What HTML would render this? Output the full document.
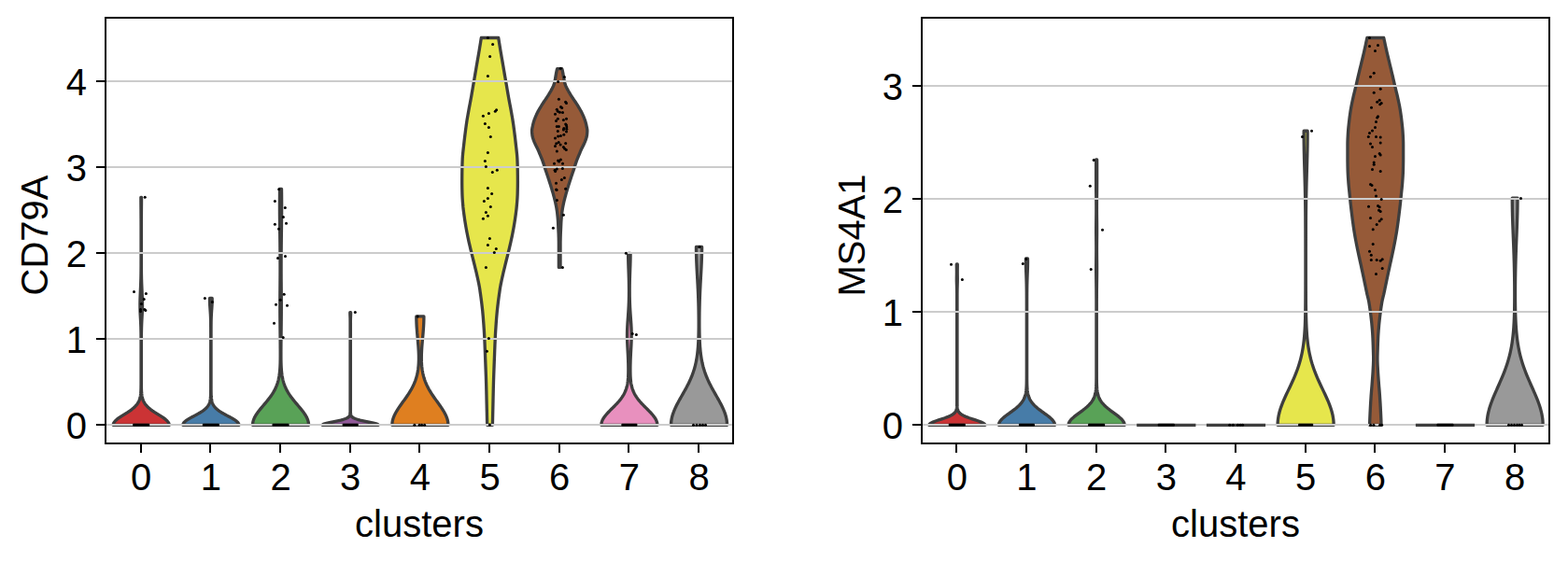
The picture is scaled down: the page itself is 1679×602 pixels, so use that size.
<!DOCTYPE html>
<html lang="en"><head><meta charset="utf-8"><title>Violin plots: CD79A and MS4A1 by clusters</title>
<style>html,body{margin:0;padding:0;background:#fff;}body{width:1679px;height:602px;overflow:hidden;font-family:"Liberation Sans",sans-serif;}svg{display:block;position:absolute;left:0;top:0}.t{font-family:"Liberation Sans",sans-serif;font-size:40px;fill:#000}</style></head><body>
<svg width="1679" height="602" viewBox="0 0 1679 602">
<rect width="1679" height="602" fill="#fff"/>
<g id="panel0">
<g stroke="#3e3e3e" stroke-width="3.33" stroke-linejoin="round">
<path fill="#cb3335" d="M121.18 455.3 L121.45 453.78 L122.25 452.25 L123.53 450.73 L125.23 449.2 L127.26 447.68 L129.53 446.15 L131.93 444.63 L134.37 443.1 L136.76 441.58 L139.03 440.05 L141.12 438.53 L143 437 L144.64 435.48 L146.04 433.95 L147.2 432.43 L148.15 430.9 L148.9 429.38 L149.49 427.85 L149.93 426.33 L150.27 424.8 L150.51 423.28 L150.69 421.75 L150.81 420.23 L150.89 418.7 L150.95 417.18 L150.99 415.65 L151.01 414.13 L151.03 412.6 L151.04 411.08 L151.04 409.55 L151.05 408.03 L151.05 406.5 L151.05 404.98 L151.05 403.45 L151.05 401.93 L151.05 400.4 L151.05 398.88 L151.05 397.35 L151.05 395.83 L151.05 394.3 L151.05 392.78 L151.05 391.25 L151.05 389.73 L151.05 388.2 L151.05 386.68 L151.05 385.15 L151.05 383.63 L151.05 382.1 L151.05 380.58 L151.05 379.06 L151.05 377.53 L151.05 376.01 L151.05 374.48 L151.05 372.96 L151.05 371.43 L151.05 369.91 L151.05 368.38 L151.04 366.86 L151.04 365.33 L151.04 363.81 L151.03 362.28 L151.02 360.76 L151.01 359.23 L150.99 357.71 L150.97 356.18 L150.94 354.66 L150.91 353.13 L150.87 351.61 L150.83 350.08 L150.77 348.56 L150.71 347.03 L150.64 345.51 L150.57 343.98 L150.49 342.46 L150.41 340.93 L150.33 339.41 L150.25 337.88 L150.17 336.36 L150.11 334.83 L150.05 333.31 L150 331.78 L149.96 330.26 L149.93 328.73 L149.92 327.21 L149.92 325.68 L149.94 324.16 L149.96 322.63 L149.99 321.11 L150.04 319.58 L150.09 318.06 L150.15 316.53 L150.21 315.01 L150.27 313.48 L150.34 311.96 L150.41 310.43 L150.48 308.91 L150.55 307.38 L150.61 305.86 L150.67 304.33 L150.73 302.81 L150.78 301.29 L150.82 299.76 L150.87 298.24 L150.9 296.71 L150.93 295.19 L150.96 293.66 L150.98 292.14 L151 290.61 L151.01 289.09 L151.02 287.56 L151.03 286.04 L151.04 284.51 L151.04 282.99 L151.04 281.46 L151.05 279.94 L151.05 278.41 L151.05 276.89 L151.05 275.36 L151.05 273.84 L151.05 272.31 L151.05 270.79 L151.05 269.26 L151.05 267.74 L151.05 266.21 L151.05 264.69 L151.05 263.16 L151.05 261.64 L151.05 260.11 L151.05 258.59 L151.05 257.06 L151.05 255.54 L151.05 254.01 L151.05 252.49 L151.05 250.96 L151.05 249.44 L151.05 247.91 L151.05 246.39 L151.05 244.86 L151.05 243.34 L151.05 241.81 L151.04 240.29 L151.04 238.76 L151.04 237.24 L151.03 235.71 L151.03 234.19 L151.02 232.66 L151.01 231.14 L151 229.61 L150.99 228.09 L150.98 226.56 L150.97 225.04 L150.95 223.52 L150.94 221.99 L150.92 220.47 L150.91 218.94 L150.9 217.42 L150.89 215.89 L150.88 214.37 L150.88 212.84 L150.87 211.32 L151.53 211.32 L151.52 212.84 L151.52 214.37 L151.51 215.89 L151.5 217.42 L151.49 218.94 L151.48 220.47 L151.46 221.99 L151.45 223.52 L151.43 225.04 L151.42 226.56 L151.41 228.09 L151.4 229.61 L151.39 231.14 L151.38 232.66 L151.37 234.19 L151.37 235.71 L151.36 237.24 L151.36 238.76 L151.36 240.29 L151.35 241.81 L151.35 243.34 L151.35 244.86 L151.35 246.39 L151.35 247.91 L151.35 249.44 L151.35 250.96 L151.35 252.49 L151.35 254.01 L151.35 255.54 L151.35 257.06 L151.35 258.59 L151.35 260.11 L151.35 261.64 L151.35 263.16 L151.35 264.69 L151.35 266.21 L151.35 267.74 L151.35 269.26 L151.35 270.79 L151.35 272.31 L151.35 273.84 L151.35 275.36 L151.35 276.89 L151.35 278.41 L151.35 279.94 L151.36 281.46 L151.36 282.99 L151.36 284.51 L151.37 286.04 L151.38 287.56 L151.39 289.09 L151.4 290.61 L151.42 292.14 L151.44 293.66 L151.47 295.19 L151.5 296.71 L151.53 298.24 L151.58 299.76 L151.62 301.29 L151.67 302.81 L151.73 304.33 L151.79 305.86 L151.85 307.38 L151.92 308.91 L151.99 310.43 L152.06 311.96 L152.13 313.48 L152.19 315.01 L152.25 316.53 L152.31 318.06 L152.36 319.58 L152.41 321.11 L152.44 322.63 L152.46 324.16 L152.48 325.68 L152.48 327.21 L152.47 328.73 L152.44 330.26 L152.4 331.78 L152.35 333.31 L152.29 334.83 L152.23 336.36 L152.15 337.88 L152.07 339.41 L151.99 340.93 L151.91 342.46 L151.83 343.98 L151.76 345.51 L151.69 347.03 L151.63 348.56 L151.57 350.08 L151.53 351.61 L151.49 353.13 L151.46 354.66 L151.43 356.18 L151.41 357.71 L151.39 359.23 L151.38 360.76 L151.37 362.28 L151.36 363.81 L151.36 365.33 L151.36 366.86 L151.35 368.38 L151.35 369.91 L151.35 371.43 L151.35 372.96 L151.35 374.48 L151.35 376.01 L151.35 377.53 L151.35 379.06 L151.35 380.58 L151.35 382.1 L151.35 383.63 L151.35 385.15 L151.35 386.68 L151.35 388.2 L151.35 389.73 L151.35 391.25 L151.35 392.78 L151.35 394.3 L151.35 395.83 L151.35 397.35 L151.35 398.88 L151.35 400.4 L151.35 401.93 L151.35 403.45 L151.35 404.98 L151.35 406.5 L151.35 408.03 L151.36 409.55 L151.36 411.08 L151.37 412.6 L151.39 414.13 L151.41 415.65 L151.45 417.18 L151.51 418.7 L151.59 420.23 L151.71 421.75 L151.89 423.28 L152.13 424.8 L152.47 426.33 L152.91 427.85 L153.5 429.38 L154.25 430.9 L155.2 432.43 L156.36 433.95 L157.76 435.48 L159.4 437 L161.28 438.53 L163.37 440.05 L165.64 441.58 L168.03 443.1 L170.47 444.63 L172.87 446.15 L175.14 447.68 L177.17 449.2 L178.87 450.73 L180.15 452.25 L180.95 453.78 L181.22 455.3Z"/>
<path fill="#477ca8" d="M195.85 455.3 L195.96 454.45 L196.31 453.6 L196.88 452.75 L197.66 451.9 L198.63 451.05 L199.77 450.2 L201.06 449.36 L202.46 448.51 L203.96 447.66 L205.52 446.81 L207.11 445.96 L208.71 445.11 L210.3 444.26 L211.84 443.41 L213.33 442.56 L214.75 441.71 L216.08 440.86 L217.31 440.01 L218.44 439.16 L219.47 438.31 L220.4 437.47 L221.22 436.62 L221.95 435.77 L222.58 434.92 L223.13 434.07 L223.6 433.22 L223.99 432.37 L224.33 431.52 L224.6 430.67 L224.83 429.82 L225.02 428.97 L225.17 428.12 L225.3 427.27 L225.39 426.42 L225.47 425.58 L225.53 424.73 L225.58 423.88 L225.61 423.03 L225.64 422.18 L225.66 421.33 L225.68 420.48 L225.69 419.63 L225.7 418.78 L225.7 417.93 L225.71 417.08 L225.71 416.23 L225.71 415.38 L225.71 414.53 L225.71 413.69 L225.71 412.84 L225.72 411.99 L225.72 411.14 L225.72 410.29 L225.72 409.44 L225.72 408.59 L225.72 407.74 L225.72 406.89 L225.72 406.04 L225.72 405.19 L225.72 404.34 L225.72 403.49 L225.72 402.64 L225.72 401.8 L225.72 400.95 L225.72 400.1 L225.72 399.25 L225.72 398.4 L225.72 397.55 L225.72 396.7 L225.72 395.85 L225.72 395 L225.72 394.15 L225.72 393.3 L225.72 392.45 L225.72 391.6 L225.72 390.76 L225.72 389.91 L225.72 389.06 L225.72 388.21 L225.72 387.36 L225.72 386.51 L225.72 385.66 L225.72 384.81 L225.72 383.96 L225.72 383.11 L225.72 382.26 L225.72 381.41 L225.72 380.56 L225.72 379.71 L225.72 378.87 L225.72 378.02 L225.72 377.17 L225.72 376.32 L225.72 375.47 L225.72 374.62 L225.72 373.77 L225.72 372.92 L225.72 372.07 L225.72 371.22 L225.72 370.37 L225.72 369.52 L225.72 368.67 L225.72 367.82 L225.72 366.98 L225.72 366.13 L225.72 365.28 L225.72 364.43 L225.72 363.58 L225.72 362.73 L225.72 361.88 L225.72 361.03 L225.72 360.18 L225.72 359.33 L225.72 358.48 L225.72 357.63 L225.71 356.78 L225.71 355.93 L225.71 355.09 L225.71 354.24 L225.71 353.39 L225.71 352.54 L225.71 351.69 L225.7 350.84 L225.7 349.99 L225.69 349.14 L225.69 348.29 L225.68 347.44 L225.67 346.59 L225.66 345.74 L225.65 344.89 L225.63 344.04 L225.62 343.2 L225.6 342.35 L225.57 341.5 L225.54 340.65 L225.51 339.8 L225.48 338.95 L225.44 338.1 L225.4 337.25 L225.35 336.4 L225.3 335.55 L225.24 334.7 L225.19 333.85 L225.13 333 L225.07 332.16 L225.01 331.31 L224.95 330.46 L224.89 329.61 L224.83 328.76 L224.77 327.91 L224.72 327.06 L224.68 326.21 L224.63 325.36 L224.6 324.51 L224.58 323.66 L224.56 322.81 L224.55 321.96 L224.55 321.11 L224.56 320.27 L224.57 319.42 L227.16 319.42 L227.18 320.27 L227.19 321.11 L227.18 321.96 L227.18 322.81 L227.16 323.66 L227.13 324.51 L227.1 325.36 L227.06 326.21 L227.01 327.06 L226.96 327.91 L226.91 328.76 L226.85 329.61 L226.79 330.46 L226.73 331.31 L226.66 332.16 L226.6 333 L226.54 333.85 L226.49 334.7 L226.43 335.55 L226.38 336.4 L226.34 337.25 L226.3 338.1 L226.26 338.95 L226.22 339.8 L226.19 340.65 L226.16 341.5 L226.14 342.35 L226.12 343.2 L226.1 344.04 L226.08 344.89 L226.07 345.74 L226.06 346.59 L226.05 347.44 L226.04 348.29 L226.04 349.14 L226.03 349.99 L226.03 350.84 L226.03 351.69 L226.02 352.54 L226.02 353.39 L226.02 354.24 L226.02 355.09 L226.02 355.93 L226.02 356.78 L226.02 357.63 L226.02 358.48 L226.02 359.33 L226.02 360.18 L226.02 361.03 L226.02 361.88 L226.02 362.73 L226.02 363.58 L226.02 364.43 L226.02 365.28 L226.02 366.13 L226.02 366.98 L226.02 367.82 L226.02 368.67 L226.02 369.52 L226.02 370.37 L226.02 371.22 L226.02 372.07 L226.02 372.92 L226.02 373.77 L226.02 374.62 L226.02 375.47 L226.02 376.32 L226.02 377.17 L226.02 378.02 L226.02 378.87 L226.02 379.71 L226.02 380.56 L226.02 381.41 L226.02 382.26 L226.02 383.11 L226.02 383.96 L226.02 384.81 L226.02 385.66 L226.02 386.51 L226.02 387.36 L226.02 388.21 L226.02 389.06 L226.02 389.91 L226.02 390.76 L226.02 391.6 L226.02 392.45 L226.02 393.3 L226.02 394.15 L226.02 395 L226.02 395.85 L226.02 396.7 L226.02 397.55 L226.02 398.4 L226.02 399.25 L226.02 400.1 L226.02 400.95 L226.02 401.8 L226.02 402.64 L226.02 403.49 L226.02 404.34 L226.02 405.19 L226.02 406.04 L226.02 406.89 L226.02 407.74 L226.02 408.59 L226.02 409.44 L226.02 410.29 L226.02 411.14 L226.02 411.99 L226.02 412.84 L226.02 413.69 L226.02 414.53 L226.02 415.38 L226.02 416.23 L226.03 417.08 L226.03 417.93 L226.04 418.78 L226.05 419.63 L226.06 420.48 L226.07 421.33 L226.09 422.18 L226.12 423.03 L226.16 423.88 L226.2 424.73 L226.26 425.58 L226.34 426.42 L226.44 427.27 L226.56 428.12 L226.71 428.97 L226.9 429.82 L227.13 430.67 L227.41 431.52 L227.74 432.37 L228.14 433.22 L228.61 434.07 L229.15 434.92 L229.79 435.77 L230.51 436.62 L231.34 437.47 L232.26 438.31 L233.29 439.16 L234.42 440.01 L235.66 440.86 L236.99 441.71 L238.4 442.56 L239.89 443.41 L241.43 444.26 L243.02 445.11 L244.62 445.96 L246.21 446.81 L247.77 447.66 L249.27 448.51 L250.67 449.36 L251.96 450.2 L253.1 451.05 L254.07 451.9 L254.85 452.75 L255.42 453.6 L255.77 454.45 L255.89 455.3Z"/>
<path fill="#59a257" d="M270.51 455.3 L270.6 453.72 L270.84 452.14 L271.24 450.56 L271.8 448.98 L272.5 447.39 L273.33 445.81 L274.29 444.23 L275.34 442.65 L276.49 441.07 L277.71 439.49 L278.98 437.91 L280.3 436.32 L281.63 434.74 L282.98 433.16 L284.31 431.58 L285.63 430 L286.91 428.42 L288.15 426.84 L289.34 425.26 L290.46 423.68 L291.52 422.09 L292.51 420.51 L293.43 418.93 L294.27 417.35 L295.04 415.77 L295.74 414.19 L296.37 412.61 L296.93 411.03 L297.43 409.44 L297.87 407.86 L298.25 406.28 L298.59 404.7 L298.88 403.12 L299.12 401.54 L299.33 399.96 L299.51 398.38 L299.66 396.79 L299.78 395.21 L299.88 393.63 L299.96 392.05 L300.03 390.47 L300.08 388.89 L300.12 387.31 L300.14 385.73 L300.17 384.14 L300.18 382.56 L300.19 380.98 L300.19 379.4 L300.19 377.82 L300.19 376.24 L300.18 374.66 L300.17 373.07 L300.16 371.49 L300.15 369.91 L300.13 368.33 L300.12 366.75 L300.1 365.17 L300.08 363.59 L300.07 362.01 L300.05 360.43 L300.03 358.84 L300.01 357.26 L300 355.68 L299.98 354.1 L299.96 352.52 L299.94 350.94 L299.92 349.36 L299.91 347.78 L299.89 346.19 L299.87 344.61 L299.86 343.03 L299.85 341.45 L299.83 339.87 L299.82 338.29 L299.81 336.71 L299.8 335.12 L299.79 333.54 L299.79 331.96 L299.78 330.38 L299.78 328.8 L299.78 327.22 L299.78 325.64 L299.78 324.06 L299.79 322.48 L299.79 320.89 L299.8 319.31 L299.81 317.73 L299.82 316.15 L299.83 314.57 L299.84 312.99 L299.86 311.41 L299.87 309.83 L299.88 308.24 L299.9 306.66 L299.91 305.08 L299.92 303.5 L299.93 301.92 L299.94 300.34 L299.95 298.76 L299.96 297.18 L299.97 295.59 L299.98 294.01 L299.98 292.43 L299.99 290.85 L299.99 289.27 L299.99 287.69 L299.99 286.11 L299.99 284.52 L299.99 282.94 L299.98 281.36 L299.98 279.78 L299.97 278.2 L299.96 276.62 L299.95 275.04 L299.94 273.46 L299.93 271.88 L299.92 270.29 L299.91 268.71 L299.89 267.13 L299.88 265.55 L299.86 263.97 L299.85 262.39 L299.83 260.81 L299.81 259.23 L299.79 257.64 L299.77 256.06 L299.75 254.48 L299.73 252.9 L299.71 251.32 L299.69 249.74 L299.67 248.16 L299.65 246.58 L299.63 244.99 L299.61 243.41 L299.6 241.83 L299.58 240.25 L299.56 238.67 L299.54 237.09 L299.53 235.51 L299.51 233.93 L299.5 232.34 L299.48 230.76 L299.47 229.18 L299.46 227.6 L299.46 226.02 L299.45 224.44 L299.45 222.86 L299.44 221.28 L299.44 219.69 L299.44 218.11 L299.45 216.53 L299.45 214.95 L299.46 213.37 L299.47 211.79 L299.49 210.21 L299.5 208.63 L299.52 207.04 L299.54 205.46 L299.56 203.88 L299.59 202.3 L301.48 202.3 L301.5 203.88 L301.53 205.46 L301.55 207.04 L301.56 208.63 L301.58 210.21 L301.59 211.79 L301.6 213.37 L301.61 214.95 L301.62 216.53 L301.62 218.11 L301.62 219.69 L301.62 221.28 L301.62 222.86 L301.62 224.44 L301.61 226.02 L301.6 227.6 L301.59 229.18 L301.58 230.76 L301.57 232.34 L301.56 233.93 L301.54 235.51 L301.52 237.09 L301.51 238.67 L301.49 240.25 L301.47 241.83 L301.45 243.41 L301.43 244.99 L301.41 246.58 L301.39 248.16 L301.37 249.74 L301.35 251.32 L301.33 252.9 L301.31 254.48 L301.29 256.06 L301.27 257.64 L301.26 259.23 L301.24 260.81 L301.22 262.39 L301.2 263.97 L301.19 265.55 L301.17 267.13 L301.16 268.71 L301.15 270.29 L301.14 271.88 L301.12 273.46 L301.11 275.04 L301.11 276.62 L301.1 278.2 L301.09 279.78 L301.09 281.36 L301.08 282.94 L301.08 284.52 L301.08 286.11 L301.08 287.69 L301.08 289.27 L301.08 290.85 L301.08 292.43 L301.09 294.01 L301.09 295.59 L301.1 297.18 L301.11 298.76 L301.12 300.34 L301.13 301.92 L301.15 303.5 L301.16 305.08 L301.17 306.66 L301.18 308.24 L301.2 309.83 L301.21 311.41 L301.22 312.99 L301.24 314.57 L301.25 316.15 L301.26 317.73 L301.27 319.31 L301.28 320.89 L301.28 322.48 L301.29 324.06 L301.29 325.64 L301.29 327.22 L301.29 328.8 L301.29 330.38 L301.28 331.96 L301.27 333.54 L301.27 335.12 L301.26 336.71 L301.25 338.29 L301.23 339.87 L301.22 341.45 L301.21 343.03 L301.19 344.61 L301.18 346.19 L301.16 347.78 L301.14 349.36 L301.12 350.94 L301.11 352.52 L301.09 354.1 L301.07 355.68 L301.05 357.26 L301.03 358.84 L301.02 360.43 L301 362.01 L300.98 363.59 L300.97 365.17 L300.95 366.75 L300.93 368.33 L300.92 369.91 L300.91 371.49 L300.9 373.07 L300.89 374.66 L300.88 376.24 L300.88 377.82 L300.88 379.4 L300.88 380.98 L300.89 382.56 L300.9 384.14 L300.92 385.73 L300.95 387.31 L300.99 388.89 L301.04 390.47 L301.11 392.05 L301.19 393.63 L301.29 395.21 L301.41 396.79 L301.56 398.38 L301.74 399.96 L301.94 401.54 L302.19 403.12 L302.48 404.7 L302.81 406.28 L303.2 407.86 L303.64 409.44 L304.14 411.03 L304.7 412.61 L305.33 414.19 L306.03 415.77 L306.8 417.35 L307.64 418.93 L308.56 420.51 L309.55 422.09 L310.61 423.68 L311.73 425.26 L312.92 426.84 L314.15 428.42 L315.44 430 L316.75 431.58 L318.09 433.16 L319.43 434.74 L320.77 436.32 L322.08 437.91 L323.36 439.49 L324.58 441.07 L325.72 442.65 L326.78 444.23 L327.73 445.81 L328.56 447.39 L329.27 448.98 L329.82 450.56 L330.23 452.14 L330.47 453.72 L330.55 455.3Z"/>
<path fill="#905998" d="M345.18 455.3 L345.83 454.55 L347.68 453.79 L350.52 453.04 L354.01 452.29 L357.77 451.53 L361.47 450.78 L364.83 450.03 L367.69 449.27 L369.98 448.52 L371.7 447.77 L372.94 447.01 L373.77 446.26 L374.31 445.51 L374.64 444.75 L374.83 444 L374.94 443.25 L375 442.49 L375.03 441.74 L375.04 440.99 L375.05 440.24 L375.05 439.48 L375.05 438.73 L375.05 437.98 L375.05 437.22 L375.05 436.47 L375.05 435.72 L375.05 434.96 L375.05 434.21 L375.05 433.46 L375.05 432.7 L375.05 431.95 L375.05 431.2 L375.05 430.44 L375.05 429.69 L375.05 428.94 L375.05 428.18 L375.05 427.43 L375.05 426.68 L375.05 425.92 L375.05 425.17 L375.05 424.42 L375.05 423.66 L375.05 422.91 L375.05 422.16 L375.05 421.4 L375.05 420.65 L375.05 419.9 L375.05 419.14 L375.05 418.39 L375.05 417.64 L375.05 416.88 L375.05 416.13 L375.05 415.38 L375.05 414.62 L375.05 413.87 L375.05 413.12 L375.05 412.36 L375.05 411.61 L375.05 410.86 L375.05 410.11 L375.05 409.35 L375.05 408.6 L375.05 407.85 L375.05 407.09 L375.05 406.34 L375.05 405.59 L375.05 404.83 L375.05 404.08 L375.05 403.33 L375.05 402.57 L375.05 401.82 L375.05 401.07 L375.05 400.31 L375.05 399.56 L375.05 398.81 L375.05 398.05 L375.05 397.3 L375.05 396.55 L375.05 395.79 L375.05 395.04 L375.05 394.29 L375.05 393.53 L375.05 392.78 L375.05 392.03 L375.05 391.27 L375.05 390.52 L375.05 389.77 L375.05 389.01 L375.05 388.26 L375.05 387.51 L375.05 386.75 L375.05 386 L375.05 385.25 L375.05 384.49 L375.05 383.74 L375.05 382.99 L375.05 382.23 L375.05 381.48 L375.05 380.73 L375.05 379.98 L375.05 379.22 L375.05 378.47 L375.05 377.72 L375.05 376.96 L375.05 376.21 L375.05 375.46 L375.05 374.7 L375.05 373.95 L375.05 373.2 L375.05 372.44 L375.05 371.69 L375.05 370.94 L375.05 370.18 L375.05 369.43 L375.05 368.68 L375.05 367.92 L375.05 367.17 L375.05 366.42 L375.05 365.66 L375.05 364.91 L375.05 364.16 L375.05 363.4 L375.05 362.65 L375.05 361.9 L375.05 361.14 L375.05 360.39 L375.05 359.64 L375.05 358.88 L375.05 358.13 L375.05 357.38 L375.05 356.62 L375.05 355.87 L375.05 355.12 L375.05 354.36 L375.05 353.61 L375.05 352.86 L375.05 352.1 L375.05 351.35 L375.05 350.6 L375.05 349.85 L375.05 349.09 L375.05 348.34 L375.05 347.59 L375.05 346.83 L375.05 346.08 L375.05 345.33 L375.04 344.57 L375.04 343.82 L375.03 343.07 L375.02 342.31 L375.01 341.56 L374.99 340.81 L374.96 340.05 L374.94 339.3 L374.91 338.55 L374.87 337.79 L374.85 337.04 L374.82 336.29 L374.81 335.53 L374.8 334.78 L375.6 334.78 L375.59 335.53 L375.58 336.29 L375.55 337.04 L375.53 337.79 L375.49 338.55 L375.46 339.3 L375.44 340.05 L375.41 340.81 L375.39 341.56 L375.38 342.31 L375.37 343.07 L375.36 343.82 L375.36 344.57 L375.35 345.33 L375.35 346.08 L375.35 346.83 L375.35 347.59 L375.35 348.34 L375.35 349.09 L375.35 349.85 L375.35 350.6 L375.35 351.35 L375.35 352.1 L375.35 352.86 L375.35 353.61 L375.35 354.36 L375.35 355.12 L375.35 355.87 L375.35 356.62 L375.35 357.38 L375.35 358.13 L375.35 358.88 L375.35 359.64 L375.35 360.39 L375.35 361.14 L375.35 361.9 L375.35 362.65 L375.35 363.4 L375.35 364.16 L375.35 364.91 L375.35 365.66 L375.35 366.42 L375.35 367.17 L375.35 367.92 L375.35 368.68 L375.35 369.43 L375.35 370.18 L375.35 370.94 L375.35 371.69 L375.35 372.44 L375.35 373.2 L375.35 373.95 L375.35 374.7 L375.35 375.46 L375.35 376.21 L375.35 376.96 L375.35 377.72 L375.35 378.47 L375.35 379.22 L375.35 379.98 L375.35 380.73 L375.35 381.48 L375.35 382.23 L375.35 382.99 L375.35 383.74 L375.35 384.49 L375.35 385.25 L375.35 386 L375.35 386.75 L375.35 387.51 L375.35 388.26 L375.35 389.01 L375.35 389.77 L375.35 390.52 L375.35 391.27 L375.35 392.03 L375.35 392.78 L375.35 393.53 L375.35 394.29 L375.35 395.04 L375.35 395.79 L375.35 396.55 L375.35 397.3 L375.35 398.05 L375.35 398.81 L375.35 399.56 L375.35 400.31 L375.35 401.07 L375.35 401.82 L375.35 402.57 L375.35 403.33 L375.35 404.08 L375.35 404.83 L375.35 405.59 L375.35 406.34 L375.35 407.09 L375.35 407.85 L375.35 408.6 L375.35 409.35 L375.35 410.11 L375.35 410.86 L375.35 411.61 L375.35 412.36 L375.35 413.12 L375.35 413.87 L375.35 414.62 L375.35 415.38 L375.35 416.13 L375.35 416.88 L375.35 417.64 L375.35 418.39 L375.35 419.14 L375.35 419.9 L375.35 420.65 L375.35 421.4 L375.35 422.16 L375.35 422.91 L375.35 423.66 L375.35 424.42 L375.35 425.17 L375.35 425.92 L375.35 426.68 L375.35 427.43 L375.35 428.18 L375.35 428.94 L375.35 429.69 L375.35 430.44 L375.35 431.2 L375.35 431.95 L375.35 432.7 L375.35 433.46 L375.35 434.21 L375.35 434.96 L375.35 435.72 L375.35 436.47 L375.35 437.22 L375.35 437.98 L375.35 438.73 L375.35 439.48 L375.35 440.24 L375.36 440.99 L375.37 441.74 L375.4 442.49 L375.46 443.25 L375.57 444 L375.76 444.75 L376.09 445.51 L376.63 446.26 L377.46 447.01 L378.7 447.77 L380.42 448.52 L382.71 449.27 L385.57 450.03 L388.93 450.78 L392.63 451.53 L396.39 452.29 L399.88 453.04 L402.72 453.79 L404.57 454.55 L405.22 455.3Z"/>
<path fill="#df7f20" d="M419.85 455.3 L419.86 454.57 L419.9 453.85 L419.96 453.12 L420.05 452.39 L420.16 451.66 L420.3 450.94 L420.46 450.21 L420.64 449.48 L420.85 448.75 L421.08 448.03 L421.34 447.3 L421.61 446.57 L421.91 445.84 L422.22 445.12 L422.56 444.39 L422.91 443.66 L423.29 442.93 L423.67 442.21 L424.08 441.48 L424.5 440.75 L424.93 440.03 L425.38 439.3 L425.84 438.57 L426.31 437.84 L426.79 437.12 L427.28 436.39 L427.77 435.66 L428.28 434.93 L428.79 434.21 L429.31 433.48 L429.83 432.75 L430.35 432.02 L430.87 431.3 L431.4 430.57 L431.93 429.84 L432.45 429.11 L432.98 428.39 L433.5 427.66 L434.02 426.93 L434.53 426.21 L435.04 425.48 L435.55 424.75 L436.05 424.02 L436.54 423.3 L437.03 422.57 L437.5 421.84 L437.97 421.11 L438.43 420.39 L438.88 419.66 L439.33 418.93 L439.76 418.2 L440.18 417.48 L440.59 416.75 L440.99 416.02 L441.38 415.29 L441.76 414.57 L442.12 413.84 L442.48 413.11 L442.82 412.38 L443.15 411.66 L443.47 410.93 L443.78 410.2 L444.08 409.48 L444.36 408.75 L444.64 408.02 L444.9 407.29 L445.15 406.57 L445.39 405.84 L445.62 405.11 L445.84 404.38 L446.04 403.66 L446.24 402.93 L446.43 402.2 L446.61 401.47 L446.77 400.75 L446.93 400.02 L447.08 399.29 L447.22 398.56 L447.35 397.84 L447.47 397.11 L447.58 396.38 L447.69 395.66 L447.78 394.93 L447.87 394.2 L447.95 393.47 L448.03 392.75 L448.1 392.02 L448.16 391.29 L448.21 390.56 L448.26 389.84 L448.3 389.11 L448.34 388.38 L448.37 387.65 L448.39 386.93 L448.41 386.2 L448.43 385.47 L448.44 384.74 L448.44 384.02 L448.44 383.29 L448.44 382.56 L448.43 381.84 L448.42 381.11 L448.4 380.38 L448.38 379.65 L448.36 378.93 L448.33 378.2 L448.3 377.47 L448.27 376.74 L448.23 376.02 L448.19 375.29 L448.15 374.56 L448.11 373.83 L448.06 373.11 L448.01 372.38 L447.96 371.65 L447.91 370.92 L447.85 370.2 L447.8 369.47 L447.74 368.74 L447.68 368.02 L447.62 367.29 L447.56 366.56 L447.49 365.83 L447.43 365.11 L447.37 364.38 L447.3 363.65 L447.24 362.92 L447.17 362.2 L447.11 361.47 L447.04 360.74 L446.98 360.01 L446.91 359.29 L446.85 358.56 L446.79 357.83 L446.73 357.1 L446.66 356.38 L446.61 355.65 L446.55 354.92 L446.49 354.19 L446.43 353.47 L446.38 352.74 L446.33 352.01 L446.28 351.29 L446.23 350.56 L446.19 349.83 L446.14 349.1 L446.1 348.38 L446.06 347.65 L446.03 346.92 L446 346.19 L445.97 345.47 L445.94 344.74 L445.92 344.01 L445.89 343.28 L445.88 342.56 L445.86 341.83 L445.85 341.1 L445.84 340.37 L445.84 339.65 L445.84 338.92 L453.9 338.92 L453.89 339.65 L453.89 340.37 L453.88 341.1 L453.87 341.83 L453.86 342.56 L453.84 343.28 L453.82 344.01 L453.79 344.74 L453.77 345.47 L453.74 346.19 L453.7 346.92 L453.67 347.65 L453.63 348.38 L453.59 349.1 L453.55 349.83 L453.5 350.56 L453.45 351.29 L453.4 352.01 L453.35 352.74 L453.3 353.47 L453.24 354.19 L453.19 354.92 L453.13 355.65 L453.07 356.38 L453.01 357.1 L452.95 357.83 L452.88 358.56 L452.82 359.29 L452.75 360.01 L452.69 360.74 L452.63 361.47 L452.56 362.2 L452.5 362.92 L452.43 363.65 L452.37 364.38 L452.3 365.11 L452.24 365.83 L452.18 366.56 L452.12 367.29 L452.05 368.02 L452 368.74 L451.94 369.47 L451.88 370.2 L451.83 370.92 L451.77 371.65 L451.72 372.38 L451.67 373.11 L451.63 373.83 L451.58 374.56 L451.54 375.29 L451.5 376.02 L451.47 376.74 L451.43 377.47 L451.4 378.2 L451.38 378.93 L451.35 379.65 L451.33 380.38 L451.32 381.11 L451.3 381.84 L451.3 382.56 L451.29 383.29 L451.29 384.02 L451.3 384.74 L451.31 385.47 L451.32 386.2 L451.34 386.93 L451.36 387.65 L451.4 388.38 L451.43 389.11 L451.47 389.84 L451.52 390.56 L451.58 391.29 L451.64 392.02 L451.7 392.75 L451.78 393.47 L451.86 394.2 L451.95 394.93 L452.05 395.66 L452.15 396.38 L452.26 397.11 L452.39 397.84 L452.52 398.56 L452.66 399.29 L452.8 400.02 L452.96 400.75 L453.13 401.47 L453.31 402.2 L453.49 402.93 L453.69 403.66 L453.9 404.38 L454.11 405.11 L454.34 405.84 L454.58 406.57 L454.84 407.29 L455.1 408.02 L455.37 408.75 L455.66 409.48 L455.95 410.2 L456.26 410.93 L456.58 411.66 L456.91 412.38 L457.26 413.11 L457.61 413.84 L457.98 414.57 L458.36 415.29 L458.74 416.02 L459.14 416.75 L459.55 417.48 L459.98 418.2 L460.41 418.93 L460.85 419.66 L461.3 420.39 L461.76 421.11 L462.23 421.84 L462.71 422.57 L463.19 423.3 L463.69 424.02 L464.18 424.75 L464.69 425.48 L465.2 426.21 L465.72 426.93 L466.23 427.66 L466.76 428.39 L467.28 429.11 L467.81 429.84 L468.33 430.57 L468.86 431.3 L469.38 432.02 L469.91 432.75 L470.43 433.48 L470.94 434.21 L471.45 434.93 L471.96 435.66 L472.46 436.39 L472.95 437.12 L473.43 437.84 L473.9 438.57 L474.35 439.3 L474.8 440.03 L475.24 440.75 L475.66 441.48 L476.06 442.21 L476.45 442.93 L476.82 443.66 L477.17 444.39 L477.51 445.12 L477.83 445.84 L478.12 446.57 L478.4 447.3 L478.65 448.03 L478.88 448.75 L479.09 449.48 L479.27 450.21 L479.44 450.94 L479.57 451.66 L479.69 452.39 L479.77 453.12 L479.84 453.85 L479.87 454.57 L479.89 455.3Z"/>
<path fill="#e6e64c" d="M521.7 455.3 L521.62 452.71 L521.56 450.11 L521.49 447.52 L521.43 444.93 L521.38 442.34 L521.32 439.74 L521.26 437.15 L521.2 434.56 L521.14 431.97 L521.08 429.37 L521.02 426.78 L520.97 424.19 L520.91 421.6 L520.85 419 L520.78 416.41 L520.72 413.82 L520.65 411.22 L520.57 408.63 L520.49 406.04 L520.41 403.45 L520.31 400.85 L520.22 398.26 L520.12 395.67 L520.02 393.08 L519.92 390.48 L519.82 387.89 L519.72 385.3 L519.62 382.71 L519.53 380.11 L519.43 377.52 L519.34 374.93 L519.24 372.33 L519.14 369.74 L519.03 367.15 L518.92 364.56 L518.8 361.96 L518.68 359.37 L518.53 356.78 L518.37 354.19 L518.2 351.59 L518.02 349 L517.83 346.41 L517.64 343.81 L517.44 341.22 L517.23 338.63 L517.01 336.04 L516.76 333.44 L516.49 330.85 L516.2 328.26 L515.89 325.67 L515.57 323.07 L515.25 320.48 L514.9 317.89 L514.53 315.3 L514.16 312.7 L513.79 310.11 L513.38 307.52 L512.9 304.92 L512.38 302.33 L511.83 299.74 L511.25 297.15 L510.67 294.55 L510.07 291.96 L509.46 289.37 L508.83 286.78 L508.19 284.18 L507.55 281.59 L506.91 279 L506.26 276.41 L505.61 273.81 L504.97 271.22 L504.34 268.63 L503.72 266.03 L503.1 263.44 L502.5 260.85 L501.91 258.26 L501.35 255.66 L500.81 253.07 L500.28 250.48 L499.77 247.89 L499.29 245.29 L498.84 242.7 L498.4 240.11 L497.98 237.52 L497.58 234.92 L497.21 232.33 L496.85 229.74 L496.5 227.14 L496.18 224.55 L495.89 221.96 L495.66 219.37 L495.45 216.77 L495.25 214.18 L495.08 211.59 L494.96 209 L494.88 206.4 L494.82 203.81 L494.76 201.22 L494.73 198.63 L494.71 196.03 L494.71 193.44 L494.72 190.85 L494.74 188.25 L494.76 185.66 L494.8 183.07 L494.84 180.48 L494.9 177.88 L494.98 175.29 L495.08 172.7 L495.2 170.11 L495.36 167.51 L495.58 164.92 L495.84 162.33 L496.13 159.74 L496.43 157.14 L496.72 154.55 L497 151.96 L497.3 149.36 L497.61 146.77 L497.93 144.18 L498.26 141.59 L498.59 138.99 L498.94 136.4 L499.3 133.81 L499.67 131.22 L500.07 128.62 L500.5 126.03 L500.95 123.44 L501.41 120.84 L501.88 118.25 L502.35 115.66 L502.84 113.07 L503.34 110.47 L503.83 107.88 L504.31 105.29 L504.78 102.7 L505.22 100.1 L505.67 97.51 L506.1 94.92 L506.55 92.33 L507 89.73 L507.45 87.14 L507.9 84.55 L508.35 81.95 L508.8 79.36 L509.24 76.77 L509.68 74.18 L510.12 71.58 L510.56 68.99 L511.01 66.4 L511.46 63.81 L511.91 61.21 L512.37 58.62 L512.81 56.03 L513.25 53.44 L513.68 50.84 L514.1 48.25 L514.52 45.66 L514.94 43.06 L515.35 40.47 L533.71 40.47 L534.13 43.06 L534.55 45.66 L534.97 48.25 L535.39 50.84 L535.82 53.44 L536.25 56.03 L536.7 58.62 L537.15 61.21 L537.61 63.81 L538.06 66.4 L538.5 68.99 L538.95 71.58 L539.39 74.18 L539.83 76.77 L540.27 79.36 L540.72 81.95 L541.17 84.55 L541.62 87.14 L542.07 89.73 L542.52 92.33 L542.96 94.92 L543.4 97.51 L543.84 100.1 L544.29 102.7 L544.75 105.29 L545.23 107.88 L545.73 110.47 L546.23 113.07 L546.72 115.66 L547.19 118.25 L547.66 120.84 L548.12 123.44 L548.57 126.03 L548.99 128.62 L549.39 131.22 L549.77 133.81 L550.13 136.4 L550.48 138.99 L550.81 141.59 L551.14 144.18 L551.46 146.77 L551.76 149.36 L552.06 151.96 L552.35 154.55 L552.63 157.14 L552.93 159.74 L553.22 162.33 L553.49 164.92 L553.71 167.51 L553.87 170.11 L553.99 172.7 L554.09 175.29 L554.17 177.88 L554.23 180.48 L554.27 183.07 L554.3 185.66 L554.33 188.25 L554.35 190.85 L554.36 193.44 L554.36 196.03 L554.34 198.63 L554.3 201.22 L554.25 203.81 L554.19 206.4 L554.11 209 L553.98 211.59 L553.82 214.18 L553.62 216.77 L553.41 219.37 L553.17 221.96 L552.89 224.55 L552.56 227.14 L552.22 229.74 L551.86 232.33 L551.49 234.92 L551.09 237.52 L550.67 240.11 L550.23 242.7 L549.78 245.29 L549.29 247.89 L548.79 250.48 L548.26 253.07 L547.71 255.66 L547.15 258.26 L546.57 260.85 L545.97 263.44 L545.35 266.03 L544.72 268.63 L544.09 271.22 L543.45 273.81 L542.8 276.41 L542.15 279 L541.51 281.59 L540.88 284.18 L540.24 286.78 L539.61 289.37 L538.99 291.96 L538.4 294.55 L537.82 297.15 L537.24 299.74 L536.69 302.33 L536.17 304.92 L535.69 307.52 L535.28 310.11 L534.91 312.7 L534.53 315.3 L534.17 317.89 L533.82 320.48 L533.49 323.07 L533.18 325.67 L532.87 328.26 L532.58 330.85 L532.3 333.44 L532.06 336.04 L531.83 338.63 L531.62 341.22 L531.42 343.81 L531.23 346.41 L531.05 349 L530.87 351.59 L530.69 354.19 L530.53 356.78 L530.39 359.37 L530.26 361.96 L530.15 364.56 L530.04 367.15 L529.93 369.74 L529.83 372.33 L529.73 374.93 L529.63 377.52 L529.54 380.11 L529.44 382.71 L529.34 385.3 L529.24 387.89 L529.14 390.48 L529.04 393.08 L528.94 395.67 L528.85 398.26 L528.75 400.85 L528.66 403.45 L528.58 406.04 L528.49 408.63 L528.42 411.22 L528.35 413.82 L528.28 416.41 L528.22 419 L528.16 421.6 L528.1 424.19 L528.04 426.78 L527.99 429.37 L527.93 431.97 L527.87 434.56 L527.81 437.15 L527.75 439.74 L527.69 442.34 L527.63 444.93 L527.57 447.52 L527.51 450.11 L527.44 452.71 L527.36 455.3Z"/>
<path fill="#965a38" d="M598.37 286.39 L598.37 285.06 L598.37 283.73 L598.37 282.4 L598.37 281.07 L598.37 279.74 L598.37 278.41 L598.37 277.08 L598.37 275.75 L598.37 274.42 L598.37 273.09 L598.37 271.76 L598.37 270.43 L598.37 269.1 L598.37 267.77 L598.37 266.44 L598.37 265.11 L598.37 263.78 L598.37 262.45 L598.37 261.12 L598.36 259.79 L598.35 258.46 L598.32 257.13 L598.29 255.8 L598.26 254.47 L598.22 253.14 L598.18 251.81 L598.13 250.48 L598.08 249.15 L598.01 247.82 L597.95 246.49 L597.89 245.16 L597.83 243.83 L597.77 242.5 L597.71 241.17 L597.65 239.84 L597.59 238.51 L597.51 237.18 L597.43 235.85 L597.32 234.52 L597.21 233.19 L597.08 231.86 L596.94 230.53 L596.8 229.2 L596.66 227.87 L596.49 226.54 L596.3 225.21 L596.09 223.88 L595.86 222.55 L595.61 221.22 L595.35 219.89 L595.07 218.56 L594.79 217.23 L594.48 215.9 L594.17 214.57 L593.83 213.24 L593.48 211.91 L593.13 210.58 L592.77 209.25 L592.4 207.92 L592.03 206.59 L591.65 205.26 L591.26 203.93 L590.86 202.6 L590.46 201.27 L590.05 199.94 L589.63 198.61 L589.21 197.28 L588.78 195.95 L588.35 194.62 L587.93 193.29 L587.5 191.96 L587.08 190.63 L586.64 189.3 L586.19 187.97 L585.73 186.64 L585.28 185.31 L584.82 183.98 L584.36 182.65 L583.91 181.32 L583.47 179.99 L583.05 178.66 L582.65 177.33 L582.24 176 L581.81 174.67 L581.35 173.34 L580.87 172.01 L580.37 170.68 L579.85 169.35 L579.3 168.02 L578.73 166.69 L578.16 165.36 L577.61 164.03 L577.07 162.7 L576.51 161.37 L575.93 160.04 L575.3 158.71 L574.61 157.38 L573.92 156.05 L573.29 154.72 L572.68 153.39 L572.1 152.06 L571.56 150.73 L571.1 149.4 L570.65 148.07 L570.26 146.74 L569.97 145.41 L569.82 144.08 L569.7 142.75 L569.61 141.42 L569.57 140.09 L569.64 138.76 L569.85 137.43 L570.12 136.1 L570.41 134.77 L570.69 133.44 L571.01 132.11 L571.38 130.78 L571.78 129.45 L572.24 128.12 L572.75 126.79 L573.3 125.46 L573.85 124.13 L574.43 122.8 L575.05 121.47 L575.7 120.14 L576.4 118.81 L577.16 117.48 L577.95 116.15 L578.76 114.82 L579.56 113.49 L580.37 112.16 L581.21 110.83 L582.07 109.5 L582.97 108.17 L583.91 106.84 L584.83 105.51 L585.71 104.18 L586.56 102.85 L587.39 101.52 L588.2 100.19 L588.99 98.86 L589.78 97.53 L590.54 96.2 L591.23 94.87 L591.88 93.54 L592.5 92.21 L593.05 90.88 L593.47 89.55 L593.8 88.22 L594.09 86.89 L594.34 85.56 L594.59 84.23 L594.82 82.9 L595.04 81.57 L595.26 80.24 L595.5 78.91 L595.74 77.58 L596 76.25 L596.29 74.92 L596.67 73.59 L601.73 73.59 L602.11 74.92 L602.4 76.25 L602.66 77.58 L602.9 78.91 L603.14 80.24 L603.36 81.57 L603.58 82.9 L603.81 84.23 L604.06 85.56 L604.31 86.89 L604.6 88.22 L604.93 89.55 L605.35 90.88 L605.9 92.21 L606.52 93.54 L607.17 94.87 L607.86 96.2 L608.62 97.53 L609.41 98.86 L610.2 100.19 L611.01 101.52 L611.84 102.85 L612.69 104.18 L613.57 105.51 L614.49 106.84 L615.43 108.17 L616.33 109.5 L617.19 110.83 L618.03 112.16 L618.84 113.49 L619.64 114.82 L620.45 116.15 L621.24 117.48 L622 118.81 L622.7 120.14 L623.35 121.47 L623.97 122.8 L624.55 124.13 L625.1 125.46 L625.65 126.79 L626.16 128.12 L626.62 129.45 L627.02 130.78 L627.39 132.11 L627.71 133.44 L627.99 134.77 L628.28 136.1 L628.55 137.43 L628.76 138.76 L628.83 140.09 L628.79 141.42 L628.7 142.75 L628.58 144.08 L628.43 145.41 L628.14 146.74 L627.75 148.07 L627.3 149.4 L626.84 150.73 L626.3 152.06 L625.72 153.39 L625.11 154.72 L624.48 156.05 L623.79 157.38 L623.1 158.71 L622.47 160.04 L621.89 161.37 L621.33 162.7 L620.79 164.03 L620.24 165.36 L619.67 166.69 L619.1 168.02 L618.55 169.35 L618.03 170.68 L617.53 172.01 L617.05 173.34 L616.59 174.67 L616.16 176 L615.75 177.33 L615.35 178.66 L614.93 179.99 L614.49 181.32 L614.04 182.65 L613.58 183.98 L613.12 185.31 L612.67 186.64 L612.21 187.97 L611.76 189.3 L611.32 190.63 L610.9 191.96 L610.47 193.29 L610.05 194.62 L609.62 195.95 L609.19 197.28 L608.77 198.61 L608.35 199.94 L607.94 201.27 L607.54 202.6 L607.14 203.93 L606.75 205.26 L606.37 206.59 L606 207.92 L605.63 209.25 L605.27 210.58 L604.92 211.91 L604.57 213.24 L604.23 214.57 L603.92 215.9 L603.61 217.23 L603.33 218.56 L603.05 219.89 L602.79 221.22 L602.54 222.55 L602.31 223.88 L602.1 225.21 L601.91 226.54 L601.74 227.87 L601.6 229.2 L601.46 230.53 L601.32 231.86 L601.19 233.19 L601.08 234.52 L600.97 235.85 L600.89 237.18 L600.81 238.51 L600.75 239.84 L600.69 241.17 L600.63 242.5 L600.57 243.83 L600.51 245.16 L600.45 246.49 L600.39 247.82 L600.32 249.15 L600.27 250.48 L600.22 251.81 L600.18 253.14 L600.14 254.47 L600.11 255.8 L600.08 257.13 L600.05 258.46 L600.04 259.79 L600.03 261.12 L600.03 262.45 L600.03 263.78 L600.03 265.11 L600.03 266.44 L600.03 267.77 L600.03 269.1 L600.03 270.43 L600.03 271.76 L600.03 273.09 L600.03 274.42 L600.03 275.75 L600.03 277.08 L600.03 278.41 L600.03 279.74 L600.03 281.07 L600.03 282.4 L600.03 283.73 L600.03 285.06 L600.03 286.39Z"/>
<path fill="#e890be" d="M643.85 455.3 L643.91 454.15 L644.09 453 L644.39 451.85 L644.81 450.7 L645.34 449.55 L645.98 448.4 L646.71 447.25 L647.53 446.1 L648.43 444.95 L649.4 443.8 L650.43 442.65 L651.5 441.5 L652.61 440.35 L653.75 439.2 L654.9 438.05 L656.06 436.9 L657.21 435.75 L658.34 434.6 L659.46 433.45 L660.55 432.3 L661.6 431.15 L662.61 430 L663.57 428.85 L664.48 427.7 L665.34 426.55 L666.14 425.4 L666.89 424.25 L667.59 423.1 L668.23 421.95 L668.81 420.8 L669.34 419.65 L669.82 418.5 L670.25 417.35 L670.63 416.2 L670.98 415.05 L671.28 413.9 L671.54 412.75 L671.77 411.6 L671.97 410.45 L672.14 409.3 L672.29 408.15 L672.41 407 L672.51 405.85 L672.6 404.7 L672.66 403.55 L672.72 402.4 L672.76 401.25 L672.79 400.1 L672.82 398.95 L672.83 397.8 L672.84 396.65 L672.84 395.5 L672.83 394.35 L672.82 393.2 L672.8 392.05 L672.78 390.9 L672.76 389.75 L672.73 388.6 L672.69 387.45 L672.66 386.3 L672.61 385.15 L672.57 384 L672.52 382.85 L672.47 381.7 L672.41 380.55 L672.36 379.4 L672.3 378.25 L672.23 377.1 L672.17 375.95 L672.11 374.8 L672.05 373.65 L671.98 372.5 L671.92 371.35 L671.86 370.2 L671.81 369.05 L671.75 367.9 L671.71 366.75 L671.66 365.6 L671.62 364.45 L671.59 363.3 L671.57 362.15 L671.55 361 L671.54 359.85 L671.54 358.7 L671.55 357.55 L671.56 356.4 L671.58 355.25 L671.61 354.1 L671.65 352.95 L671.69 351.8 L671.75 350.65 L671.8 349.5 L671.87 348.35 L671.94 347.2 L672.01 346.05 L672.09 344.9 L672.16 343.75 L672.25 342.6 L672.33 341.45 L672.41 340.3 L672.5 339.15 L672.58 338 L672.66 336.85 L672.74 335.7 L672.82 334.55 L672.89 333.4 L672.96 332.25 L673.03 331.1 L673.09 329.95 L673.15 328.8 L673.21 327.65 L673.26 326.5 L673.3 325.35 L673.35 324.2 L673.39 323.05 L673.42 321.9 L673.45 320.75 L673.48 319.6 L673.5 318.45 L673.52 317.3 L673.53 316.15 L673.54 315 L673.55 313.85 L673.56 312.7 L673.56 311.55 L673.56 310.4 L673.55 309.25 L673.54 308.1 L673.53 306.95 L673.52 305.8 L673.5 304.65 L673.48 303.5 L673.46 302.35 L673.44 301.2 L673.41 300.05 L673.38 298.9 L673.35 297.75 L673.32 296.6 L673.28 295.45 L673.25 294.3 L673.21 293.15 L673.17 292 L673.13 290.85 L673.09 289.7 L673.05 288.55 L673 287.4 L672.96 286.25 L672.92 285.1 L672.89 283.95 L672.85 282.8 L672.81 281.65 L672.78 280.5 L672.75 279.35 L672.73 278.2 L672.7 277.05 L672.68 275.9 L672.67 274.75 L672.66 273.6 L672.65 272.45 L672.65 271.3 L675.08 271.3 L675.08 272.45 L675.07 273.6 L675.06 274.75 L675.05 275.9 L675.03 277.05 L675.01 278.2 L674.98 279.35 L674.95 280.5 L674.92 281.65 L674.88 282.8 L674.85 283.95 L674.81 285.1 L674.77 286.25 L674.73 287.4 L674.69 288.55 L674.65 289.7 L674.61 290.85 L674.57 292 L674.53 293.15 L674.49 294.3 L674.45 295.45 L674.42 296.6 L674.38 297.75 L674.35 298.9 L674.32 300.05 L674.29 301.2 L674.27 302.35 L674.25 303.5 L674.23 304.65 L674.21 305.8 L674.2 306.95 L674.19 308.1 L674.18 309.25 L674.18 310.4 L674.17 311.55 L674.18 312.7 L674.18 313.85 L674.19 315 L674.2 316.15 L674.21 317.3 L674.23 318.45 L674.26 319.6 L674.28 320.75 L674.31 321.9 L674.35 323.05 L674.39 324.2 L674.43 325.35 L674.48 326.5 L674.53 327.65 L674.58 328.8 L674.64 329.95 L674.71 331.1 L674.77 332.25 L674.84 333.4 L674.92 334.55 L674.99 335.7 L675.07 336.85 L675.16 338 L675.24 339.15 L675.32 340.3 L675.4 341.45 L675.49 342.6 L675.57 343.75 L675.65 344.9 L675.72 346.05 L675.8 347.2 L675.87 348.35 L675.93 349.5 L675.99 350.65 L676.04 351.8 L676.08 352.95 L676.12 354.1 L676.15 355.25 L676.17 356.4 L676.19 357.55 L676.19 358.7 L676.19 359.85 L676.18 361 L676.17 362.15 L676.14 363.3 L676.11 364.45 L676.07 365.6 L676.03 366.75 L675.98 367.9 L675.93 369.05 L675.87 370.2 L675.81 371.35 L675.75 372.5 L675.69 373.65 L675.62 374.8 L675.56 375.95 L675.5 377.1 L675.44 378.25 L675.38 379.4 L675.32 380.55 L675.27 381.7 L675.21 382.85 L675.17 384 L675.12 385.15 L675.08 386.3 L675.04 387.45 L675.01 388.6 L674.98 389.75 L674.95 390.9 L674.93 392.05 L674.91 393.2 L674.9 394.35 L674.9 395.5 L674.9 396.65 L674.9 397.8 L674.92 398.95 L674.94 400.1 L674.97 401.25 L675.01 402.4 L675.07 403.55 L675.14 404.7 L675.22 405.85 L675.33 407 L675.45 408.15 L675.59 409.3 L675.76 410.45 L675.96 411.6 L676.19 412.75 L676.46 413.9 L676.76 415.05 L677.1 416.2 L677.48 417.35 L677.91 418.5 L678.39 419.65 L678.92 420.8 L679.51 421.95 L680.15 423.1 L680.84 424.25 L681.59 425.4 L682.39 426.55 L683.25 427.7 L684.17 428.85 L685.13 430 L686.14 431.15 L687.19 432.3 L688.27 433.45 L689.39 434.6 L690.53 435.75 L691.68 436.9 L692.83 438.05 L693.99 439.2 L695.12 440.35 L696.23 441.5 L697.31 442.65 L698.33 443.8 L699.3 444.95 L700.2 446.1 L701.02 447.25 L701.76 448.4 L702.39 449.55 L702.92 450.7 L703.34 451.85 L703.64 453 L703.83 454.15 L703.89 455.3Z"/>
<path fill="#999999" d="M718.51 455.3 L718.53 454.11 L718.6 452.91 L718.7 451.72 L718.85 450.53 L719.04 449.33 L719.27 448.14 L719.53 446.95 L719.84 445.75 L720.18 444.56 L720.56 443.37 L720.97 442.18 L721.41 440.98 L721.88 439.79 L722.39 438.6 L722.91 437.4 L723.47 436.21 L724.04 435.02 L724.64 433.82 L725.25 432.63 L725.88 431.44 L726.53 430.24 L727.18 429.05 L727.85 427.86 L728.52 426.67 L729.2 425.47 L729.88 424.28 L730.56 423.09 L731.24 421.89 L731.92 420.7 L732.59 419.51 L733.26 418.31 L733.92 417.12 L734.57 415.93 L735.21 414.73 L735.84 413.54 L736.46 412.35 L737.06 411.15 L737.64 409.96 L738.21 408.77 L738.77 407.57 L739.3 406.38 L739.82 405.19 L740.32 404 L740.8 402.8 L741.27 401.61 L741.71 400.42 L742.14 399.22 L742.54 398.03 L742.93 396.84 L743.3 395.64 L743.65 394.45 L743.98 393.26 L744.3 392.06 L744.6 390.87 L744.88 389.68 L745.14 388.49 L745.39 387.29 L745.62 386.1 L745.84 384.91 L746.05 383.71 L746.24 382.52 L746.42 381.33 L746.58 380.13 L746.74 378.94 L746.88 377.75 L747.01 376.55 L747.13 375.36 L747.25 374.17 L747.35 372.97 L747.45 371.78 L747.53 370.59 L747.61 369.39 L747.68 368.2 L747.75 367.01 L747.81 365.82 L747.86 364.62 L747.91 363.43 L747.96 362.24 L748 361.04 L748.03 359.85 L748.06 358.66 L748.09 357.46 L748.11 356.27 L748.13 355.08 L748.15 353.88 L748.16 352.69 L748.18 351.5 L748.19 350.31 L748.19 349.11 L748.2 347.92 L748.2 346.73 L748.2 345.53 L748.2 344.34 L748.19 343.15 L748.19 341.95 L748.18 340.76 L748.17 339.57 L748.16 338.37 L748.15 337.18 L748.13 335.99 L748.12 334.79 L748.1 333.6 L748.08 332.41 L748.05 331.22 L748.03 330.02 L748.01 328.83 L747.98 327.64 L747.95 326.44 L747.92 325.25 L747.88 324.06 L747.85 322.86 L747.81 321.67 L747.77 320.48 L747.73 319.28 L747.69 318.09 L747.65 316.9 L747.6 315.7 L747.55 314.51 L747.5 313.32 L747.45 312.12 L747.39 310.93 L747.34 309.74 L747.28 308.55 L747.22 307.35 L747.17 306.16 L747.1 304.97 L747.04 303.77 L746.98 302.58 L746.91 301.39 L746.85 300.19 L746.78 299 L746.72 297.81 L746.65 296.61 L746.59 295.42 L746.52 294.23 L746.45 293.03 L746.39 291.84 L746.32 290.65 L746.26 289.46 L746.2 288.26 L746.14 287.07 L746.08 285.88 L746.02 284.68 L745.96 283.49 L745.91 282.3 L745.86 281.1 L745.81 279.91 L745.76 278.72 L745.72 277.52 L745.68 276.33 L745.65 275.14 L745.61 273.94 L745.58 272.75 L745.56 271.56 L745.53 270.37 L745.52 269.17 L745.5 267.98 L745.49 266.79 L745.49 265.59 L745.48 264.4 L751.58 264.4 L751.58 265.59 L751.58 266.79 L751.56 267.98 L751.55 269.17 L751.53 270.37 L751.51 271.56 L751.48 272.75 L751.45 273.94 L751.42 275.14 L751.39 276.33 L751.35 277.52 L751.3 278.72 L751.26 279.91 L751.21 281.1 L751.16 282.3 L751.1 283.49 L751.05 284.68 L750.99 285.88 L750.93 287.07 L750.87 288.26 L750.81 289.46 L750.74 290.65 L750.68 291.84 L750.61 293.03 L750.55 294.23 L750.48 295.42 L750.41 296.61 L750.35 297.81 L750.28 299 L750.22 300.19 L750.15 301.39 L750.09 302.58 L750.02 303.77 L749.96 304.97 L749.9 306.16 L749.84 307.35 L749.78 308.55 L749.73 309.74 L749.67 310.93 L749.62 312.12 L749.57 313.32 L749.52 314.51 L749.47 315.7 L749.42 316.9 L749.38 318.09 L749.33 319.28 L749.29 320.48 L749.25 321.67 L749.22 322.86 L749.18 324.06 L749.15 325.25 L749.12 326.44 L749.09 327.64 L749.06 328.83 L749.04 330.02 L749.01 331.22 L748.99 332.41 L748.97 333.6 L748.95 334.79 L748.93 335.99 L748.92 337.18 L748.91 338.37 L748.9 339.57 L748.89 340.76 L748.88 341.95 L748.87 343.15 L748.87 344.34 L748.87 345.53 L748.87 346.73 L748.87 347.92 L748.87 349.11 L748.88 350.31 L748.89 351.5 L748.9 352.69 L748.92 353.88 L748.93 355.08 L748.95 356.27 L748.98 357.46 L749 358.66 L749.04 359.85 L749.07 361.04 L749.11 362.24 L749.15 363.43 L749.2 364.62 L749.26 365.82 L749.32 367.01 L749.38 368.2 L749.45 369.39 L749.53 370.59 L749.62 371.78 L749.72 372.97 L749.82 374.17 L749.93 375.36 L750.05 376.55 L750.19 377.75 L750.33 378.94 L750.48 380.13 L750.65 381.33 L750.83 382.52 L751.02 383.71 L751.22 384.91 L751.44 386.1 L751.68 387.29 L751.92 388.49 L752.19 389.68 L752.47 390.87 L752.77 392.06 L753.08 393.26 L753.42 394.45 L753.77 395.64 L754.14 396.84 L754.52 398.03 L754.93 399.22 L755.36 400.42 L755.8 401.61 L756.26 402.8 L756.75 404 L757.25 405.19 L757.76 406.38 L758.3 407.57 L758.85 408.77 L759.42 409.96 L760.01 411.15 L760.61 412.35 L761.23 413.54 L761.85 414.73 L762.49 415.93 L763.15 417.12 L763.81 418.31 L764.47 419.51 L765.15 420.7 L765.83 421.89 L766.51 423.09 L767.19 424.28 L767.87 425.47 L768.55 426.67 L769.22 427.86 L769.88 429.05 L770.54 430.24 L771.18 431.44 L771.81 432.63 L772.43 433.82 L773.02 435.02 L773.6 436.21 L774.15 437.4 L774.68 438.6 L775.18 439.79 L775.66 440.98 L776.1 442.18 L776.51 443.37 L776.89 444.56 L777.23 445.75 L777.53 446.95 L777.8 448.14 L778.03 449.33 L778.22 450.53 L778.36 451.72 L778.47 452.91 L778.53 454.11 L778.55 455.3Z"/>
</g>
<g stroke="#cccccc" stroke-width="2" shape-rendering="crispEdges">
<line x1="113" x2="785" y1="455" y2="455"/>
<line x1="113" x2="785" y1="363" y2="363"/>
<line x1="113" x2="785" y1="271" y2="271"/>
<line x1="113" x2="785" y1="179" y2="179"/>
<line x1="113" x2="785" y1="87" y2="87"/>
</g>
<g fill="#000">
<rect x="142.2" y="453.8" width="18" height="3" rx="0.8"/>
<circle cx="143.5" cy="312.5" r="1.5"/>
<circle cx="156.4" cy="314.5" r="1.5"/>
<circle cx="154.2" cy="320.5" r="1.5"/>
<circle cx="151.4" cy="325.5" r="1.5"/>
<circle cx="150.5" cy="331.4" r="1.5"/>
<circle cx="150.5" cy="333.4" r="1.5"/>
<circle cx="154.8" cy="331.4" r="1.5"/>
<circle cx="155.8" cy="332.4" r="1.5"/>
<circle cx="155.2" cy="211.3" r="1.5"/>
<rect x="216.87" y="453.8" width="18" height="3" rx="0.8"/>
<circle cx="219.4" cy="319.5" r="1.5"/>
<circle cx="227.3" cy="323.5" r="1.5"/>
<rect x="291.53" y="453.8" width="18" height="3" rx="0.8"/>
<circle cx="298.7" cy="202.8" r="1.5"/>
<circle cx="294.4" cy="215.4" r="1.5"/>
<circle cx="305.3" cy="222.4" r="1.5"/>
<circle cx="303.4" cy="232.4" r="1.5"/>
<circle cx="294.4" cy="240.3" r="1.5"/>
<circle cx="306.5" cy="239.3" r="1.5"/>
<circle cx="298.5" cy="245.3" r="1.5"/>
<circle cx="305.5" cy="274.4" r="1.5"/>
<circle cx="297.5" cy="276.4" r="1.5"/>
<circle cx="304.2" cy="315.3" r="1.5"/>
<circle cx="300.2" cy="321.3" r="1.5"/>
<circle cx="295.5" cy="326.3" r="1.5"/>
<circle cx="307.5" cy="327.3" r="1.5"/>
<circle cx="293.5" cy="346.2" r="1.5"/>
<circle cx="303.2" cy="361.5" r="1.5"/>
<rect x="366.7" y="453.8" width="17" height="3" rx="0.8"/>
<circle cx="380.3" cy="334.5" r="1.5"/>
<circle cx="443.9" cy="455.3" r="1.5"/>
<circle cx="449.1" cy="455.3" r="1.5"/>
<circle cx="451.6" cy="455.3" r="1.5"/>
<circle cx="454.6" cy="455.3" r="1.5"/>
<circle cx="447.1" cy="338.9" r="1.5"/>
<circle cx="522.4" cy="40.5" r="1.5"/>
<circle cx="527.6" cy="47.5" r="1.5"/>
<circle cx="524.6" cy="60.4" r="1.5"/>
<circle cx="522.4" cy="81.4" r="1.5"/>
<circle cx="531.6" cy="117.8" r="1.5"/>
<circle cx="530.3" cy="119.3" r="1.5"/>
<circle cx="523.4" cy="121.5" r="1.5"/>
<circle cx="517.4" cy="124.2" r="1.5"/>
<circle cx="519.4" cy="132.5" r="1.5"/>
<circle cx="523.4" cy="136.5" r="1.5"/>
<circle cx="525.3" cy="146.4" r="1.5"/>
<circle cx="522.4" cy="163.6" r="1.5"/>
<circle cx="519.4" cy="172.6" r="1.5"/>
<circle cx="520.4" cy="178.6" r="1.5"/>
<circle cx="532.3" cy="182.2" r="1.5"/>
<circle cx="527.3" cy="184.5" r="1.5"/>
<circle cx="522.4" cy="201.4" r="1.5"/>
<circle cx="526.6" cy="207.4" r="1.5"/>
<circle cx="522.4" cy="212.4" r="1.5"/>
<circle cx="518.4" cy="215.4" r="1.5"/>
<circle cx="525.3" cy="221.4" r="1.5"/>
<circle cx="520.4" cy="227.6" r="1.5"/>
<circle cx="522.4" cy="231.3" r="1.5"/>
<circle cx="517.4" cy="234.3" r="1.5"/>
<circle cx="524.4" cy="255.5" r="1.5"/>
<circle cx="522.4" cy="262.5" r="1.5"/>
<circle cx="531.3" cy="266.5" r="1.5"/>
<circle cx="529.3" cy="270.5" r="1.5"/>
<circle cx="520.4" cy="286.4" r="1.5"/>
<circle cx="523.4" cy="362.4" r="1.5"/>
<circle cx="521.4" cy="376.3" r="1.5"/>
<circle cx="524.4" cy="455.1" r="1.5"/>
<circle cx="600.4" cy="73.3" r="1.5"/>
<circle cx="604.4" cy="82.4" r="1.5"/>
<circle cx="597.6" cy="87.4" r="1.5"/>
<circle cx="598.4" cy="106.3" r="1.5"/>
<circle cx="605.6" cy="109.2" r="1.5"/>
<circle cx="606.5" cy="110.4" r="1.5"/>
<circle cx="600.5" cy="114.4" r="1.5"/>
<circle cx="601.7" cy="115.4" r="1.5"/>
<circle cx="596.3" cy="117.3" r="1.5"/>
<circle cx="597.3" cy="119.2" r="1.5"/>
<circle cx="599.4" cy="120.2" r="1.5"/>
<circle cx="602.5" cy="120.4" r="1.5"/>
<circle cx="594.5" cy="122.3" r="1.5"/>
<circle cx="597.3" cy="127.3" r="1.5"/>
<circle cx="606.5" cy="127.3" r="1.5"/>
<circle cx="595.5" cy="129.5" r="1.5"/>
<circle cx="603.4" cy="128.5" r="1.5"/>
<circle cx="605.7" cy="132.9" r="1.5"/>
<circle cx="606.5" cy="134.1" r="1.5"/>
<circle cx="596.3" cy="135.6" r="1.5"/>
<circle cx="598.4" cy="135.6" r="1.5"/>
<circle cx="606.8" cy="136" r="1.5"/>
<circle cx="603.8" cy="137.4" r="1.5"/>
<circle cx="606.8" cy="138.3" r="1.5"/>
<circle cx="603.4" cy="138.9" r="1.5"/>
<circle cx="597.3" cy="140.6" r="1.5"/>
<circle cx="606.5" cy="141" r="1.5"/>
<circle cx="603.8" cy="144.3" r="1.5"/>
<circle cx="600.4" cy="145.6" r="1.5"/>
<circle cx="597.6" cy="146" r="1.5"/>
<circle cx="594.5" cy="148.1" r="1.5"/>
<circle cx="598.2" cy="152.4" r="1.5"/>
<circle cx="605.7" cy="153.4" r="1.5"/>
<circle cx="595.7" cy="153.7" r="1.5"/>
<circle cx="600.1" cy="154.9" r="1.5"/>
<circle cx="594.5" cy="156.4" r="1.5"/>
<circle cx="603.4" cy="157.4" r="1.5"/>
<circle cx="604.7" cy="159.3" r="1.5"/>
<circle cx="606.3" cy="160.5" r="1.5"/>
<circle cx="596.3" cy="162.1" r="1.5"/>
<circle cx="600.4" cy="171.1" r="1.5"/>
<circle cx="597.6" cy="172" r="1.5"/>
<circle cx="598.6" cy="173" r="1.5"/>
<circle cx="593.5" cy="175.2" r="1.5"/>
<circle cx="602.5" cy="175.2" r="1.5"/>
<circle cx="602.4" cy="180.5" r="1.5"/>
<circle cx="596.3" cy="181.1" r="1.5"/>
<circle cx="594.1" cy="182.3" r="1.5"/>
<circle cx="594.6" cy="183.5" r="1.5"/>
<circle cx="604.4" cy="190.4" r="1.5"/>
<circle cx="601.4" cy="192.4" r="1.5"/>
<circle cx="595.5" cy="196.3" r="1.5"/>
<circle cx="605.6" cy="202.2" r="1.5"/>
<circle cx="595.6" cy="203" r="1.5"/>
<circle cx="596.1" cy="203.6" r="1.5"/>
<circle cx="596.4" cy="214.4" r="1.5"/>
<circle cx="603.4" cy="230.3" r="1.5"/>
<circle cx="592.4" cy="244.3" r="1.5"/>
<circle cx="602.4" cy="286.4" r="1.5"/>
<rect x="665.37" y="453.8" width="17" height="3" rx="0.8"/>
<circle cx="670.4" cy="271.3" r="1.5"/>
<circle cx="677.2" cy="357.6" r="1.5"/>
<circle cx="681.4" cy="358.6" r="1.5"/>
<circle cx="742.5" cy="455.3" r="1.5"/>
<circle cx="746" cy="455.3" r="1.5"/>
<circle cx="749.5" cy="455.3" r="1.5"/>
<circle cx="752.5" cy="455.3" r="1.5"/>
<circle cx="755.5" cy="455.3" r="1.5"/>
<circle cx="749.1" cy="264.5" r="1.5"/>
</g>
<rect x="113" y="19" width="672" height="456" fill="none" stroke="#000" stroke-width="2" shape-rendering="crispEdges"/>
<g stroke="#000" stroke-width="2" shape-rendering="crispEdges">
<line x1="151" x2="151" y1="476" y2="485"/>
<line x1="225" x2="225" y1="476" y2="485"/>
<line x1="300" x2="300" y1="476" y2="485"/>
<line x1="375" x2="375" y1="476" y2="485"/>
<line x1="449" x2="449" y1="476" y2="485"/>
<line x1="524" x2="524" y1="476" y2="485"/>
<line x1="599" x2="599" y1="476" y2="485"/>
<line x1="673" x2="673" y1="476" y2="485"/>
<line x1="748" x2="748" y1="476" y2="485"/>
<line x1="103" x2="112" y1="455" y2="455"/>
<line x1="103" x2="112" y1="363" y2="363"/>
<line x1="103" x2="112" y1="271" y2="271"/>
<line x1="103" x2="112" y1="179" y2="179"/>
<line x1="103" x2="112" y1="87" y2="87"/>
</g>
<g class="t">
<text x="151.2" y="525.1" text-anchor="middle">0</text>
<text x="225.87" y="525.1" text-anchor="middle">1</text>
<text x="300.53" y="525.1" text-anchor="middle">2</text>
<text x="375.2" y="525.1" text-anchor="middle">3</text>
<text x="449.87" y="525.1" text-anchor="middle">4</text>
<text x="524.53" y="525.1" text-anchor="middle">5</text>
<text x="599.2" y="525.1" text-anchor="middle">6</text>
<text x="673.87" y="525.1" text-anchor="middle">7</text>
<text x="748.53" y="525.1" text-anchor="middle">8</text>
<text x="93" y="469.9" text-anchor="end">0</text>
<text x="93" y="377.9" text-anchor="end">1</text>
<text x="93" y="285.9" text-anchor="end">2</text>
<text x="93" y="193.9" text-anchor="end">3</text>
<text x="93" y="101.9" text-anchor="end">4</text>
<text x="449" y="575.2" text-anchor="middle">clusters</text>
<text transform="translate(51 252) rotate(-90)" text-anchor="middle">CD79A</text>
</g>
</g>
<g id="panel1">
<g stroke="#3e3e3e" stroke-width="3.33" stroke-linejoin="round">
<path fill="#cb3335" d="M994.78 455.3 L995.28 454.22 L996.74 453.15 L999.02 452.07 L1001.89 450.99 L1005.12 449.92 L1008.45 448.84 L1011.67 447.76 L1014.59 446.68 L1017.11 445.61 L1019.19 444.53 L1020.83 443.45 L1022.07 442.38 L1022.96 441.3 L1023.58 440.22 L1024 439.15 L1024.27 438.07 L1024.43 436.99 L1024.53 435.92 L1024.59 434.84 L1024.62 433.76 L1024.63 432.69 L1024.64 431.61 L1024.65 430.53 L1024.65 429.45 L1024.65 428.38 L1024.65 427.3 L1024.65 426.22 L1024.65 425.15 L1024.65 424.07 L1024.65 422.99 L1024.65 421.92 L1024.65 420.84 L1024.65 419.76 L1024.65 418.69 L1024.65 417.61 L1024.65 416.53 L1024.65 415.45 L1024.65 414.38 L1024.65 413.3 L1024.65 412.22 L1024.65 411.15 L1024.65 410.07 L1024.65 408.99 L1024.65 407.92 L1024.65 406.84 L1024.65 405.76 L1024.65 404.69 L1024.65 403.61 L1024.65 402.53 L1024.65 401.46 L1024.65 400.38 L1024.65 399.3 L1024.65 398.22 L1024.65 397.15 L1024.65 396.07 L1024.65 394.99 L1024.65 393.92 L1024.65 392.84 L1024.65 391.76 L1024.65 390.69 L1024.65 389.61 L1024.65 388.53 L1024.65 387.46 L1024.65 386.38 L1024.65 385.3 L1024.65 384.22 L1024.65 383.15 L1024.65 382.07 L1024.65 380.99 L1024.65 379.92 L1024.65 378.84 L1024.65 377.76 L1024.65 376.69 L1024.65 375.61 L1024.65 374.53 L1024.65 373.46 L1024.65 372.38 L1024.65 371.3 L1024.65 370.22 L1024.65 369.15 L1024.65 368.07 L1024.65 366.99 L1024.65 365.92 L1024.65 364.84 L1024.65 363.76 L1024.65 362.69 L1024.65 361.61 L1024.65 360.53 L1024.65 359.46 L1024.65 358.38 L1024.65 357.3 L1024.65 356.23 L1024.65 355.15 L1024.65 354.07 L1024.65 352.99 L1024.65 351.92 L1024.65 350.84 L1024.65 349.76 L1024.65 348.69 L1024.65 347.61 L1024.65 346.53 L1024.65 345.46 L1024.65 344.38 L1024.65 343.3 L1024.65 342.23 L1024.65 341.15 L1024.65 340.07 L1024.65 338.99 L1024.65 337.92 L1024.65 336.84 L1024.65 335.76 L1024.65 334.69 L1024.65 333.61 L1024.65 332.53 L1024.65 331.46 L1024.65 330.38 L1024.65 329.3 L1024.65 328.23 L1024.65 327.15 L1024.65 326.07 L1024.65 325 L1024.65 323.92 L1024.65 322.84 L1024.65 321.76 L1024.65 320.69 L1024.65 319.61 L1024.65 318.53 L1024.65 317.46 L1024.65 316.38 L1024.64 315.3 L1024.64 314.23 L1024.63 313.15 L1024.62 312.07 L1024.61 311 L1024.59 309.92 L1024.57 308.84 L1024.54 307.76 L1024.51 306.69 L1024.48 305.61 L1024.45 304.53 L1024.41 303.46 L1024.39 302.38 L1024.36 301.3 L1024.35 300.23 L1024.34 299.15 L1024.35 298.07 L1024.36 297 L1024.37 295.92 L1024.39 294.84 L1024.4 293.76 L1024.41 292.69 L1024.42 291.61 L1024.42 290.53 L1024.41 289.46 L1024.39 288.38 L1024.38 287.3 L1024.36 286.23 L1024.35 285.15 L1024.34 284.07 L1024.35 283 L1025.25 283 L1025.26 284.07 L1025.25 285.15 L1025.24 286.23 L1025.22 287.3 L1025.21 288.38 L1025.19 289.46 L1025.18 290.53 L1025.18 291.61 L1025.19 292.69 L1025.2 293.76 L1025.21 294.84 L1025.23 295.92 L1025.24 297 L1025.25 298.07 L1025.26 299.15 L1025.25 300.23 L1025.24 301.3 L1025.21 302.38 L1025.19 303.46 L1025.15 304.53 L1025.12 305.61 L1025.09 306.69 L1025.06 307.76 L1025.03 308.84 L1025.01 309.92 L1024.99 311 L1024.98 312.07 L1024.97 313.15 L1024.96 314.23 L1024.96 315.3 L1024.95 316.38 L1024.95 317.46 L1024.95 318.53 L1024.95 319.61 L1024.95 320.69 L1024.95 321.76 L1024.95 322.84 L1024.95 323.92 L1024.95 325 L1024.95 326.07 L1024.95 327.15 L1024.95 328.23 L1024.95 329.3 L1024.95 330.38 L1024.95 331.46 L1024.95 332.53 L1024.95 333.61 L1024.95 334.69 L1024.95 335.76 L1024.95 336.84 L1024.95 337.92 L1024.95 338.99 L1024.95 340.07 L1024.95 341.15 L1024.95 342.23 L1024.95 343.3 L1024.95 344.38 L1024.95 345.46 L1024.95 346.53 L1024.95 347.61 L1024.95 348.69 L1024.95 349.76 L1024.95 350.84 L1024.95 351.92 L1024.95 352.99 L1024.95 354.07 L1024.95 355.15 L1024.95 356.23 L1024.95 357.3 L1024.95 358.38 L1024.95 359.46 L1024.95 360.53 L1024.95 361.61 L1024.95 362.69 L1024.95 363.76 L1024.95 364.84 L1024.95 365.92 L1024.95 366.99 L1024.95 368.07 L1024.95 369.15 L1024.95 370.22 L1024.95 371.3 L1024.95 372.38 L1024.95 373.46 L1024.95 374.53 L1024.95 375.61 L1024.95 376.69 L1024.95 377.76 L1024.95 378.84 L1024.95 379.92 L1024.95 380.99 L1024.95 382.07 L1024.95 383.15 L1024.95 384.22 L1024.95 385.3 L1024.95 386.38 L1024.95 387.46 L1024.95 388.53 L1024.95 389.61 L1024.95 390.69 L1024.95 391.76 L1024.95 392.84 L1024.95 393.92 L1024.95 394.99 L1024.95 396.07 L1024.95 397.15 L1024.95 398.22 L1024.95 399.3 L1024.95 400.38 L1024.95 401.46 L1024.95 402.53 L1024.95 403.61 L1024.95 404.69 L1024.95 405.76 L1024.95 406.84 L1024.95 407.92 L1024.95 408.99 L1024.95 410.07 L1024.95 411.15 L1024.95 412.22 L1024.95 413.3 L1024.95 414.38 L1024.95 415.45 L1024.95 416.53 L1024.95 417.61 L1024.95 418.69 L1024.95 419.76 L1024.95 420.84 L1024.95 421.92 L1024.95 422.99 L1024.95 424.07 L1024.95 425.15 L1024.95 426.22 L1024.95 427.3 L1024.95 428.38 L1024.95 429.45 L1024.95 430.53 L1024.96 431.61 L1024.97 432.69 L1024.98 433.76 L1025.01 434.84 L1025.07 435.92 L1025.17 436.99 L1025.33 438.07 L1025.6 439.15 L1026.02 440.22 L1026.64 441.3 L1027.53 442.38 L1028.77 443.45 L1030.41 444.53 L1032.49 445.61 L1035.01 446.68 L1037.93 447.76 L1041.15 448.84 L1044.48 449.92 L1047.71 450.99 L1050.58 452.07 L1052.86 453.15 L1054.32 454.22 L1054.82 455.3Z"/>
<path fill="#477ca8" d="M1069.45 455.3 L1069.56 454.19 L1069.88 453.07 L1070.42 451.96 L1071.15 450.84 L1072.07 449.73 L1073.15 448.61 L1074.37 447.5 L1075.71 446.38 L1077.14 445.27 L1078.64 444.15 L1080.17 443.04 L1081.72 441.92 L1083.27 440.81 L1084.79 439.69 L1086.25 438.58 L1087.66 437.46 L1088.99 436.35 L1090.24 435.24 L1091.39 434.12 L1092.45 433.01 L1093.41 431.89 L1094.28 430.78 L1095.04 429.66 L1095.72 428.55 L1096.31 427.43 L1096.83 426.32 L1097.27 425.2 L1097.64 424.09 L1097.96 422.97 L1098.22 421.86 L1098.44 420.74 L1098.62 419.63 L1098.77 418.51 L1098.89 417.4 L1098.99 416.29 L1099.06 415.17 L1099.12 414.06 L1099.17 412.94 L1099.21 411.83 L1099.23 410.71 L1099.25 409.6 L1099.27 408.48 L1099.28 407.37 L1099.29 406.25 L1099.3 405.14 L1099.3 404.02 L1099.31 402.91 L1099.31 401.79 L1099.31 400.68 L1099.31 399.56 L1099.31 398.45 L1099.32 397.33 L1099.32 396.22 L1099.32 395.11 L1099.32 393.99 L1099.32 392.88 L1099.32 391.76 L1099.32 390.65 L1099.32 389.53 L1099.32 388.42 L1099.32 387.3 L1099.32 386.19 L1099.32 385.07 L1099.32 383.96 L1099.32 382.84 L1099.32 381.73 L1099.32 380.61 L1099.32 379.5 L1099.32 378.38 L1099.32 377.27 L1099.32 376.16 L1099.32 375.04 L1099.32 373.93 L1099.32 372.81 L1099.32 371.7 L1099.32 370.58 L1099.32 369.47 L1099.32 368.35 L1099.32 367.24 L1099.32 366.12 L1099.32 365.01 L1099.32 363.89 L1099.32 362.78 L1099.32 361.66 L1099.32 360.55 L1099.32 359.43 L1099.32 358.32 L1099.32 357.21 L1099.32 356.09 L1099.32 354.98 L1099.32 353.86 L1099.32 352.75 L1099.32 351.63 L1099.32 350.52 L1099.32 349.4 L1099.32 348.29 L1099.32 347.17 L1099.32 346.06 L1099.32 344.94 L1099.32 343.83 L1099.32 342.71 L1099.32 341.6 L1099.32 340.48 L1099.32 339.37 L1099.32 338.26 L1099.32 337.14 L1099.32 336.03 L1099.32 334.91 L1099.32 333.8 L1099.32 332.68 L1099.32 331.57 L1099.32 330.45 L1099.32 329.34 L1099.32 328.22 L1099.32 327.11 L1099.31 325.99 L1099.31 324.88 L1099.31 323.76 L1099.31 322.65 L1099.31 321.53 L1099.31 320.42 L1099.31 319.31 L1099.3 318.19 L1099.3 317.08 L1099.3 315.96 L1099.29 314.85 L1099.28 313.73 L1099.28 312.62 L1099.27 311.5 L1099.26 310.39 L1099.24 309.27 L1099.23 308.16 L1099.21 307.04 L1099.19 305.93 L1099.17 304.81 L1099.14 303.7 L1099.12 302.58 L1099.09 301.47 L1099.05 300.35 L1099.02 299.24 L1098.98 298.13 L1098.94 297.01 L1098.9 295.9 L1098.86 294.78 L1098.81 293.67 L1098.77 292.55 L1098.72 291.44 L1098.68 290.32 L1098.64 289.21 L1098.6 288.09 L1098.57 286.98 L1098.53 285.86 L1098.51 284.75 L1098.49 283.63 L1098.47 282.52 L1098.46 281.4 L1098.45 280.29 L1098.45 279.18 L1098.46 278.06 L1098.48 276.95 L1100.46 276.95 L1100.47 278.06 L1100.48 279.18 L1100.48 280.29 L1100.48 281.4 L1100.46 282.52 L1100.45 283.63 L1100.43 284.75 L1100.4 285.86 L1100.37 286.98 L1100.33 288.09 L1100.29 289.21 L1100.25 290.32 L1100.21 291.44 L1100.17 292.55 L1100.12 293.67 L1100.08 294.78 L1100.04 295.9 L1099.99 297.01 L1099.95 298.13 L1099.92 299.24 L1099.88 300.35 L1099.85 301.47 L1099.82 302.58 L1099.79 303.7 L1099.76 304.81 L1099.74 305.93 L1099.72 307.04 L1099.71 308.16 L1099.69 309.27 L1099.68 310.39 L1099.67 311.5 L1099.66 312.62 L1099.65 313.73 L1099.64 314.85 L1099.64 315.96 L1099.63 317.08 L1099.63 318.19 L1099.63 319.31 L1099.62 320.42 L1099.62 321.53 L1099.62 322.65 L1099.62 323.76 L1099.62 324.88 L1099.62 325.99 L1099.62 327.11 L1099.62 328.22 L1099.62 329.34 L1099.62 330.45 L1099.62 331.57 L1099.62 332.68 L1099.62 333.8 L1099.62 334.91 L1099.62 336.03 L1099.62 337.14 L1099.62 338.26 L1099.62 339.37 L1099.62 340.48 L1099.62 341.6 L1099.62 342.71 L1099.62 343.83 L1099.62 344.94 L1099.62 346.06 L1099.62 347.17 L1099.62 348.29 L1099.62 349.4 L1099.62 350.52 L1099.62 351.63 L1099.62 352.75 L1099.62 353.86 L1099.62 354.98 L1099.62 356.09 L1099.62 357.21 L1099.62 358.32 L1099.62 359.43 L1099.62 360.55 L1099.62 361.66 L1099.62 362.78 L1099.62 363.89 L1099.62 365.01 L1099.62 366.12 L1099.62 367.24 L1099.62 368.35 L1099.62 369.47 L1099.62 370.58 L1099.62 371.7 L1099.62 372.81 L1099.62 373.93 L1099.62 375.04 L1099.62 376.16 L1099.62 377.27 L1099.62 378.38 L1099.62 379.5 L1099.62 380.61 L1099.62 381.73 L1099.62 382.84 L1099.62 383.96 L1099.62 385.07 L1099.62 386.19 L1099.62 387.3 L1099.62 388.42 L1099.62 389.53 L1099.62 390.65 L1099.62 391.76 L1099.62 392.88 L1099.62 393.99 L1099.62 395.11 L1099.62 396.22 L1099.62 397.33 L1099.62 398.45 L1099.62 399.56 L1099.62 400.68 L1099.62 401.79 L1099.63 402.91 L1099.63 404.02 L1099.63 405.14 L1099.64 406.25 L1099.65 407.37 L1099.66 408.48 L1099.68 409.6 L1099.7 410.71 L1099.73 411.83 L1099.76 412.94 L1099.81 414.06 L1099.87 415.17 L1099.95 416.29 L1100.04 417.4 L1100.16 418.51 L1100.31 419.63 L1100.49 420.74 L1100.71 421.86 L1100.97 422.97 L1101.29 424.09 L1101.66 425.2 L1102.11 426.32 L1102.62 427.43 L1103.21 428.55 L1103.89 429.66 L1104.66 430.78 L1105.52 431.89 L1106.48 433.01 L1107.54 434.12 L1108.69 435.24 L1109.94 436.35 L1111.27 437.46 L1112.68 438.58 L1114.15 439.69 L1115.66 440.81 L1117.21 441.92 L1118.76 443.04 L1120.3 444.15 L1121.79 445.27 L1123.22 446.38 L1124.56 447.5 L1125.78 448.61 L1126.86 449.73 L1127.78 450.84 L1128.51 451.96 L1129.05 453.07 L1129.38 454.19 L1129.49 455.3Z"/>
<path fill="#59a257" d="M1144.11 455.3 L1144.38 453.52 L1145.18 451.75 L1146.45 449.97 L1148.15 448.19 L1150.17 446.41 L1152.43 444.64 L1154.82 442.86 L1157.26 441.08 L1159.65 439.31 L1161.92 437.53 L1164.01 435.75 L1165.88 433.97 L1167.53 432.2 L1168.93 430.42 L1170.1 428.64 L1171.05 426.87 L1171.81 425.09 L1172.4 423.31 L1172.85 421.53 L1173.19 419.76 L1173.43 417.98 L1173.61 416.2 L1173.74 414.42 L1173.82 412.65 L1173.88 410.87 L1173.92 409.09 L1173.94 407.32 L1173.96 405.54 L1173.97 403.76 L1173.97 401.98 L1173.98 400.21 L1173.98 398.43 L1173.98 396.65 L1173.98 394.88 L1173.98 393.1 L1173.98 391.32 L1173.98 389.54 L1173.98 387.77 L1173.98 385.99 L1173.98 384.21 L1173.98 382.44 L1173.98 380.66 L1173.98 378.88 L1173.98 377.1 L1173.98 375.33 L1173.98 373.55 L1173.98 371.77 L1173.98 370 L1173.98 368.22 L1173.98 366.44 L1173.98 364.66 L1173.98 362.89 L1173.98 361.11 L1173.98 359.33 L1173.98 357.55 L1173.98 355.78 L1173.98 354 L1173.98 352.22 L1173.98 350.45 L1173.98 348.67 L1173.98 346.89 L1173.98 345.11 L1173.98 343.34 L1173.98 341.56 L1173.98 339.78 L1173.98 338.01 L1173.98 336.23 L1173.98 334.45 L1173.98 332.67 L1173.98 330.9 L1173.98 329.12 L1173.98 327.34 L1173.98 325.57 L1173.98 323.79 L1173.97 322.01 L1173.97 320.23 L1173.96 318.46 L1173.95 316.68 L1173.94 314.9 L1173.93 313.12 L1173.92 311.35 L1173.9 309.57 L1173.88 307.79 L1173.86 306.02 L1173.84 304.24 L1173.81 302.46 L1173.79 300.68 L1173.77 298.91 L1173.74 297.13 L1173.72 295.35 L1173.71 293.58 L1173.69 291.8 L1173.69 290.02 L1173.68 288.24 L1173.69 286.47 L1173.69 284.69 L1173.7 282.91 L1173.72 281.14 L1173.73 279.36 L1173.75 277.58 L1173.77 275.8 L1173.79 274.03 L1173.8 272.25 L1173.81 270.47 L1173.82 268.7 L1173.82 266.92 L1173.81 265.14 L1173.81 263.36 L1173.79 261.59 L1173.78 259.81 L1173.76 258.03 L1173.74 256.25 L1173.73 254.48 L1173.71 252.7 L1173.7 250.92 L1173.69 249.15 L1173.68 247.37 L1173.68 245.59 L1173.69 243.81 L1173.7 242.04 L1173.71 240.26 L1173.73 238.48 L1173.75 236.71 L1173.77 234.93 L1173.79 233.15 L1173.81 231.37 L1173.83 229.6 L1173.84 227.82 L1173.85 226.04 L1173.86 224.27 L1173.86 222.49 L1173.86 220.71 L1173.85 218.93 L1173.84 217.16 L1173.82 215.38 L1173.8 213.6 L1173.78 211.83 L1173.76 210.05 L1173.74 208.27 L1173.71 206.49 L1173.69 204.72 L1173.68 202.94 L1173.66 201.16 L1173.65 199.38 L1173.64 197.61 L1173.64 195.83 L1173.64 194.05 L1173.64 192.28 L1173.64 190.5 L1173.64 188.72 L1173.64 186.94 L1173.64 185.17 L1173.64 183.39 L1173.64 181.61 L1173.64 179.84 L1173.64 178.06 L1173.64 176.28 L1173.64 174.5 L1173.65 172.73 L1173.66 170.95 L1174.61 170.95 L1174.62 172.73 L1174.63 174.5 L1174.63 176.28 L1174.63 178.06 L1174.63 179.84 L1174.63 181.61 L1174.63 183.39 L1174.63 185.17 L1174.63 186.94 L1174.63 188.72 L1174.63 190.5 L1174.63 192.28 L1174.63 194.05 L1174.63 195.83 L1174.62 197.61 L1174.61 199.38 L1174.6 201.16 L1174.59 202.94 L1174.57 204.72 L1174.55 206.49 L1174.53 208.27 L1174.51 210.05 L1174.49 211.83 L1174.46 213.6 L1174.45 215.38 L1174.43 217.16 L1174.42 218.93 L1174.41 220.71 L1174.41 222.49 L1174.41 224.27 L1174.41 226.04 L1174.43 227.82 L1174.44 229.6 L1174.46 231.37 L1174.48 233.15 L1174.5 234.93 L1174.52 236.71 L1174.54 238.48 L1174.56 240.26 L1174.57 242.04 L1174.58 243.81 L1174.58 245.59 L1174.58 247.37 L1174.58 249.15 L1174.57 250.92 L1174.56 252.7 L1174.54 254.48 L1174.52 256.25 L1174.5 258.03 L1174.49 259.81 L1174.47 261.59 L1174.46 263.36 L1174.45 265.14 L1174.45 266.92 L1174.45 268.7 L1174.46 270.47 L1174.47 272.25 L1174.48 274.03 L1174.5 275.8 L1174.51 277.58 L1174.53 279.36 L1174.55 281.14 L1174.56 282.91 L1174.57 284.69 L1174.58 286.47 L1174.58 288.24 L1174.58 290.02 L1174.57 291.8 L1174.56 293.58 L1174.54 295.35 L1174.52 297.13 L1174.5 298.91 L1174.48 300.68 L1174.45 302.46 L1174.43 304.24 L1174.41 306.02 L1174.39 307.79 L1174.37 309.57 L1174.35 311.35 L1174.34 313.12 L1174.32 314.9 L1174.31 316.68 L1174.31 318.46 L1174.3 320.23 L1174.3 322.01 L1174.29 323.79 L1174.29 325.57 L1174.29 327.34 L1174.29 329.12 L1174.29 330.9 L1174.28 332.67 L1174.28 334.45 L1174.28 336.23 L1174.28 338.01 L1174.28 339.78 L1174.28 341.56 L1174.28 343.34 L1174.28 345.11 L1174.28 346.89 L1174.28 348.67 L1174.28 350.45 L1174.28 352.22 L1174.28 354 L1174.28 355.78 L1174.28 357.55 L1174.28 359.33 L1174.28 361.11 L1174.28 362.89 L1174.28 364.66 L1174.28 366.44 L1174.28 368.22 L1174.28 370 L1174.28 371.77 L1174.28 373.55 L1174.28 375.33 L1174.28 377.1 L1174.28 378.88 L1174.28 380.66 L1174.28 382.44 L1174.28 384.21 L1174.28 385.99 L1174.28 387.77 L1174.28 389.54 L1174.28 391.32 L1174.28 393.1 L1174.28 394.88 L1174.28 396.65 L1174.29 398.43 L1174.29 400.21 L1174.29 401.98 L1174.3 403.76 L1174.31 405.54 L1174.32 407.32 L1174.35 409.09 L1174.39 410.87 L1174.44 412.65 L1174.53 414.42 L1174.65 416.2 L1174.83 417.98 L1175.08 419.76 L1175.42 421.53 L1175.87 423.31 L1176.46 425.09 L1177.22 426.87 L1178.17 428.64 L1179.34 430.42 L1180.74 432.2 L1182.38 433.97 L1184.26 435.75 L1186.35 437.53 L1188.62 439.31 L1191.01 441.08 L1193.44 442.86 L1195.84 444.64 L1198.1 446.41 L1200.12 448.19 L1201.81 449.97 L1203.09 451.75 L1203.88 453.52 L1204.15 455.3Z"/>
<path fill="#e6e64c" d="M1368.11 455.3 L1368.15 453.33 L1368.27 451.36 L1368.47 449.39 L1368.75 447.42 L1369.1 445.45 L1369.52 443.48 L1370.02 441.52 L1370.57 439.55 L1371.19 437.58 L1371.87 435.61 L1372.59 433.64 L1373.37 431.67 L1374.18 429.7 L1375.03 427.73 L1375.9 425.76 L1376.8 423.79 L1377.72 421.82 L1378.65 419.85 L1379.59 417.88 L1380.53 415.91 L1381.46 413.95 L1382.39 411.98 L1383.3 410.01 L1384.2 408.04 L1385.08 406.07 L1385.93 404.1 L1386.76 402.13 L1387.56 400.16 L1388.33 398.19 L1389.06 396.22 L1389.76 394.25 L1390.43 392.28 L1391.06 390.31 L1391.66 388.34 L1392.22 386.38 L1392.74 384.41 L1393.23 382.44 L1393.69 380.47 L1394.11 378.5 L1394.5 376.53 L1394.86 374.56 L1395.19 372.59 L1395.49 370.62 L1395.76 368.65 L1396.01 366.68 L1396.24 364.71 L1396.45 362.74 L1396.63 360.77 L1396.79 358.81 L1396.94 356.84 L1397.07 354.87 L1397.19 352.9 L1397.3 350.93 L1397.39 348.96 L1397.47 346.99 L1397.54 345.02 L1397.6 343.05 L1397.66 341.08 L1397.7 339.11 L1397.75 337.14 L1397.78 335.17 L1397.81 333.2 L1397.84 331.24 L1397.86 329.27 L1397.88 327.3 L1397.9 325.33 L1397.91 323.36 L1397.92 321.39 L1397.93 319.42 L1397.94 317.45 L1397.95 315.48 L1397.95 313.51 L1397.96 311.54 L1397.96 309.57 L1397.97 307.6 L1397.97 305.64 L1397.97 303.67 L1397.97 301.7 L1397.98 299.73 L1397.98 297.76 L1397.98 295.79 L1397.98 293.82 L1397.98 291.85 L1397.98 289.88 L1397.98 287.91 L1397.98 285.94 L1397.98 283.97 L1397.98 282 L1397.98 280.03 L1397.98 278.07 L1397.98 276.1 L1397.98 274.13 L1397.98 272.16 L1397.98 270.19 L1397.97 268.22 L1397.97 266.25 L1397.97 264.28 L1397.97 262.31 L1397.97 260.34 L1397.96 258.37 L1397.96 256.4 L1397.96 254.43 L1397.95 252.46 L1397.95 250.5 L1397.94 248.53 L1397.94 246.56 L1397.93 244.59 L1397.92 242.62 L1397.91 240.65 L1397.9 238.68 L1397.89 236.71 L1397.88 234.74 L1397.87 232.77 L1397.85 230.8 L1397.84 228.83 L1397.82 226.86 L1397.8 224.89 L1397.78 222.93 L1397.76 220.96 L1397.73 218.99 L1397.71 217.02 L1397.68 215.05 L1397.65 213.08 L1397.61 211.11 L1397.58 209.14 L1397.54 207.17 L1397.5 205.2 L1397.46 203.23 L1397.42 201.26 L1397.37 199.29 L1397.32 197.32 L1397.27 195.36 L1397.22 193.39 L1397.17 191.42 L1397.12 189.45 L1397.06 187.48 L1397.01 185.51 L1396.95 183.54 L1396.89 181.57 L1396.84 179.6 L1396.78 177.63 L1396.72 175.66 L1396.67 173.69 L1396.62 171.72 L1396.56 169.76 L1396.52 167.79 L1396.47 165.82 L1396.42 163.85 L1396.38 161.88 L1396.34 159.91 L1396.31 157.94 L1396.28 155.97 L1396.25 154 L1396.23 152.03 L1396.21 150.06 L1396.19 148.09 L1396.18 146.12 L1396.18 144.15 L1396.18 142.19 L1396.18 140.22 L1400.08 140.22 L1400.09 142.19 L1400.09 144.15 L1400.08 146.12 L1400.07 148.09 L1400.06 150.06 L1400.04 152.03 L1400.02 154 L1399.99 155.97 L1399.96 157.94 L1399.92 159.91 L1399.89 161.88 L1399.84 163.85 L1399.8 165.82 L1399.75 167.79 L1399.7 169.76 L1399.65 171.72 L1399.6 173.69 L1399.54 175.66 L1399.49 177.63 L1399.43 179.6 L1399.37 181.57 L1399.32 183.54 L1399.26 185.51 L1399.21 187.48 L1399.15 189.45 L1399.1 191.42 L1399.04 193.39 L1398.99 195.36 L1398.94 197.32 L1398.9 199.29 L1398.85 201.26 L1398.81 203.23 L1398.77 205.2 L1398.73 207.17 L1398.69 209.14 L1398.65 211.11 L1398.62 213.08 L1398.59 215.05 L1398.56 217.02 L1398.53 218.99 L1398.51 220.96 L1398.49 222.93 L1398.47 224.89 L1398.45 226.86 L1398.43 228.83 L1398.41 230.8 L1398.4 232.77 L1398.39 234.74 L1398.37 236.71 L1398.36 238.68 L1398.35 240.65 L1398.34 242.62 L1398.34 244.59 L1398.33 246.56 L1398.32 248.53 L1398.32 250.5 L1398.31 252.46 L1398.31 254.43 L1398.31 256.4 L1398.3 258.37 L1398.3 260.34 L1398.3 262.31 L1398.3 264.28 L1398.29 266.25 L1398.29 268.22 L1398.29 270.19 L1398.29 272.16 L1398.29 274.13 L1398.29 276.1 L1398.29 278.07 L1398.29 280.03 L1398.29 282 L1398.29 283.97 L1398.29 285.94 L1398.29 287.91 L1398.29 289.88 L1398.29 291.85 L1398.29 293.82 L1398.29 295.79 L1398.29 297.76 L1398.29 299.73 L1398.29 301.7 L1398.29 303.67 L1398.3 305.64 L1398.3 307.6 L1398.3 309.57 L1398.31 311.54 L1398.31 313.51 L1398.32 315.48 L1398.32 317.45 L1398.33 319.42 L1398.34 321.39 L1398.36 323.36 L1398.37 325.33 L1398.39 327.3 L1398.41 329.27 L1398.43 331.24 L1398.45 333.2 L1398.49 335.17 L1398.52 337.14 L1398.56 339.11 L1398.61 341.08 L1398.66 343.05 L1398.73 345.02 L1398.8 346.99 L1398.88 348.96 L1398.97 350.93 L1399.07 352.9 L1399.19 354.87 L1399.32 356.84 L1399.47 358.81 L1399.64 360.77 L1399.82 362.74 L1400.03 364.71 L1400.25 366.68 L1400.5 368.65 L1400.78 370.62 L1401.08 372.59 L1401.41 374.56 L1401.77 376.53 L1402.16 378.5 L1402.58 380.47 L1403.04 382.44 L1403.52 384.41 L1404.05 386.38 L1404.61 388.34 L1405.2 390.31 L1405.84 392.28 L1406.5 394.25 L1407.2 396.22 L1407.94 398.19 L1408.71 400.16 L1409.51 402.13 L1410.33 404.1 L1411.19 406.07 L1412.07 408.04 L1412.96 410.01 L1413.88 411.98 L1414.81 413.95 L1415.74 415.91 L1416.68 417.88 L1417.62 419.85 L1418.55 421.82 L1419.46 423.79 L1420.36 425.76 L1421.24 427.73 L1422.09 429.7 L1422.9 431.67 L1423.67 433.64 L1424.4 435.61 L1425.07 437.58 L1425.69 439.55 L1426.25 441.52 L1426.74 443.48 L1427.17 445.45 L1427.52 447.42 L1427.79 449.39 L1427.99 451.36 L1428.11 453.33 L1428.15 455.3Z"/>
<path fill="#965a38" d="M1466.57 455.3 L1466.65 452.71 L1466.74 450.12 L1466.85 447.52 L1466.97 444.93 L1467.09 442.34 L1467.22 439.75 L1467.35 437.15 L1467.49 434.56 L1467.64 431.97 L1467.8 429.38 L1467.97 426.78 L1468.14 424.19 L1468.33 421.6 L1468.53 419.01 L1468.75 416.41 L1468.97 413.82 L1469.18 411.23 L1469.37 408.64 L1469.57 406.04 L1469.76 403.45 L1469.94 400.86 L1470.1 398.27 L1470.24 395.67 L1470.38 393.08 L1470.52 390.49 L1470.62 387.9 L1470.67 385.3 L1470.66 382.71 L1470.61 380.12 L1470.54 377.53 L1470.45 374.93 L1470.37 372.34 L1470.29 369.75 L1470.2 367.16 L1470.09 364.57 L1469.98 361.97 L1469.85 359.38 L1469.69 356.79 L1469.5 354.2 L1469.29 351.6 L1469.07 349.01 L1468.83 346.42 L1468.56 343.83 L1468.27 341.23 L1467.96 338.64 L1467.63 336.05 L1467.29 333.46 L1466.94 330.86 L1466.57 328.27 L1466.17 325.68 L1465.73 323.09 L1465.2 320.49 L1464.55 317.9 L1463.91 315.31 L1463.34 312.72 L1462.8 310.12 L1462.26 307.53 L1461.72 304.94 L1461.18 302.35 L1460.65 299.75 L1460.11 297.16 L1459.56 294.57 L1459.01 291.98 L1458.45 289.38 L1457.89 286.79 L1457.33 284.2 L1456.76 281.61 L1456.19 279.02 L1455.62 276.42 L1455.05 273.83 L1454.49 271.24 L1453.95 268.65 L1453.41 266.05 L1452.88 263.46 L1452.37 260.87 L1451.87 258.28 L1451.39 255.68 L1450.93 253.09 L1450.48 250.5 L1450.06 247.91 L1449.65 245.31 L1449.26 242.72 L1448.9 240.13 L1448.55 237.54 L1448.21 234.94 L1447.88 232.35 L1447.55 229.76 L1447.23 227.17 L1446.92 224.57 L1446.62 221.98 L1446.32 219.39 L1446.04 216.8 L1445.77 214.2 L1445.5 211.61 L1445.23 209.02 L1444.97 206.43 L1444.7 203.83 L1444.43 201.24 L1444.18 198.65 L1443.96 196.06 L1443.77 193.47 L1443.59 190.87 L1443.42 188.28 L1443.29 185.69 L1443.19 183.1 L1443.12 180.5 L1443.06 177.91 L1443.02 175.32 L1442.98 172.73 L1442.97 170.13 L1442.97 167.54 L1442.97 164.95 L1442.97 162.36 L1442.97 159.76 L1442.97 157.17 L1442.97 154.58 L1443 151.99 L1443.09 149.39 L1443.21 146.8 L1443.35 144.21 L1443.5 141.62 L1443.69 139.02 L1443.93 136.43 L1444.2 133.84 L1444.49 131.25 L1444.79 128.65 L1445.1 126.06 L1445.44 123.47 L1445.8 120.88 L1446.2 118.28 L1446.63 115.69 L1447.11 113.1 L1447.63 110.51 L1448.19 107.92 L1448.76 105.32 L1449.34 102.73 L1449.96 100.14 L1450.59 97.55 L1451.23 94.95 L1451.86 92.36 L1452.46 89.77 L1453.06 87.18 L1453.66 84.58 L1454.26 81.99 L1454.87 79.4 L1455.49 76.81 L1456.11 74.21 L1456.75 71.62 L1457.38 69.03 L1458 66.44 L1458.63 63.84 L1459.27 61.25 L1459.89 58.66 L1460.5 56.07 L1461.09 53.47 L1461.66 50.88 L1462.22 48.29 L1462.78 45.7 L1463.33 43.1 L1463.87 40.51 L1481.73 40.51 L1482.27 43.1 L1482.82 45.7 L1483.38 48.29 L1483.94 50.88 L1484.51 53.47 L1485.1 56.07 L1485.71 58.66 L1486.33 61.25 L1486.97 63.84 L1487.6 66.44 L1488.22 69.03 L1488.85 71.62 L1489.49 74.21 L1490.11 76.81 L1490.73 79.4 L1491.34 81.99 L1491.94 84.58 L1492.54 87.18 L1493.14 89.77 L1493.74 92.36 L1494.37 94.95 L1495.01 97.55 L1495.64 100.14 L1496.26 102.73 L1496.84 105.32 L1497.41 107.92 L1497.97 110.51 L1498.49 113.1 L1498.97 115.69 L1499.4 118.28 L1499.8 120.88 L1500.16 123.47 L1500.5 126.06 L1500.81 128.65 L1501.11 131.25 L1501.4 133.84 L1501.67 136.43 L1501.91 139.02 L1502.1 141.62 L1502.25 144.21 L1502.39 146.8 L1502.51 149.39 L1502.6 151.99 L1502.63 154.58 L1502.63 157.17 L1502.63 159.76 L1502.63 162.36 L1502.63 164.95 L1502.63 167.54 L1502.63 170.13 L1502.62 172.73 L1502.58 175.32 L1502.54 177.91 L1502.48 180.5 L1502.41 183.1 L1502.31 185.69 L1502.18 188.28 L1502.01 190.87 L1501.83 193.47 L1501.64 196.06 L1501.42 198.65 L1501.17 201.24 L1500.9 203.83 L1500.63 206.43 L1500.37 209.02 L1500.1 211.61 L1499.83 214.2 L1499.56 216.8 L1499.28 219.39 L1498.98 221.98 L1498.68 224.57 L1498.37 227.17 L1498.05 229.76 L1497.72 232.35 L1497.39 234.94 L1497.05 237.54 L1496.7 240.13 L1496.34 242.72 L1495.95 245.31 L1495.54 247.91 L1495.12 250.5 L1494.67 253.09 L1494.21 255.68 L1493.73 258.28 L1493.23 260.87 L1492.72 263.46 L1492.19 266.05 L1491.65 268.65 L1491.11 271.24 L1490.55 273.83 L1489.98 276.42 L1489.41 279.02 L1488.84 281.61 L1488.27 284.2 L1487.71 286.79 L1487.15 289.38 L1486.59 291.98 L1486.04 294.57 L1485.49 297.16 L1484.95 299.75 L1484.42 302.35 L1483.88 304.94 L1483.34 307.53 L1482.8 310.12 L1482.26 312.72 L1481.69 315.31 L1481.05 317.9 L1480.4 320.49 L1479.87 323.09 L1479.43 325.68 L1479.03 328.27 L1478.66 330.86 L1478.31 333.46 L1477.97 336.05 L1477.64 338.64 L1477.33 341.23 L1477.04 343.83 L1476.77 346.42 L1476.53 349.01 L1476.31 351.6 L1476.1 354.2 L1475.91 356.79 L1475.75 359.38 L1475.62 361.97 L1475.51 364.57 L1475.4 367.16 L1475.31 369.75 L1475.23 372.34 L1475.15 374.93 L1475.06 377.53 L1474.99 380.12 L1474.94 382.71 L1474.93 385.3 L1474.98 387.9 L1475.08 390.49 L1475.22 393.08 L1475.36 395.67 L1475.5 398.27 L1475.66 400.86 L1475.84 403.45 L1476.03 406.04 L1476.23 408.64 L1476.42 411.23 L1476.63 413.82 L1476.85 416.41 L1477.07 419.01 L1477.27 421.6 L1477.46 424.19 L1477.63 426.78 L1477.8 429.38 L1477.96 431.97 L1478.11 434.56 L1478.25 437.15 L1478.38 439.75 L1478.51 442.34 L1478.63 444.93 L1478.75 447.52 L1478.86 450.12 L1478.95 452.71 L1479.03 455.3Z"/>
<path fill="#999999" d="M1592.11 455.3 L1592.13 453.78 L1592.2 452.26 L1592.3 450.74 L1592.44 449.22 L1592.63 447.7 L1592.85 446.18 L1593.12 444.66 L1593.42 443.14 L1593.75 441.62 L1594.13 440.1 L1594.53 438.58 L1594.97 437.06 L1595.43 435.54 L1595.93 434.02 L1596.45 432.5 L1597 430.98 L1597.57 429.46 L1598.15 427.94 L1598.76 426.42 L1599.38 424.9 L1600.02 423.38 L1600.67 421.86 L1601.33 420.34 L1602 418.82 L1602.67 417.3 L1603.34 415.78 L1604.02 414.26 L1604.69 412.74 L1605.37 411.22 L1606.04 409.7 L1606.7 408.18 L1607.36 406.66 L1608.01 405.14 L1608.65 403.62 L1609.27 402.1 L1609.89 400.58 L1610.49 399.06 L1611.07 397.54 L1611.64 396.02 L1612.2 394.5 L1612.73 392.98 L1613.25 391.46 L1613.76 389.94 L1614.24 388.42 L1614.71 386.9 L1615.15 385.38 L1615.58 383.86 L1615.99 382.34 L1616.39 380.82 L1616.76 379.3 L1617.11 377.78 L1617.45 376.26 L1617.77 374.74 L1618.07 373.22 L1618.36 371.7 L1618.63 370.18 L1618.88 368.66 L1619.12 367.14 L1619.35 365.62 L1619.56 364.1 L1619.75 362.58 L1619.93 361.06 L1620.1 359.54 L1620.26 358.02 L1620.41 356.5 L1620.55 354.98 L1620.67 353.46 L1620.79 351.94 L1620.9 350.42 L1620.99 348.9 L1621.08 347.38 L1621.17 345.86 L1621.24 344.34 L1621.31 342.82 L1621.37 341.3 L1621.43 339.78 L1621.48 338.26 L1621.53 336.74 L1621.57 335.22 L1621.61 333.7 L1621.64 332.17 L1621.67 330.65 L1621.69 329.13 L1621.72 327.61 L1621.73 326.09 L1621.75 324.57 L1621.76 323.05 L1621.77 321.53 L1621.78 320.01 L1621.79 318.49 L1621.79 316.97 L1621.79 315.45 L1621.79 313.93 L1621.79 312.41 L1621.78 310.89 L1621.77 309.37 L1621.77 307.85 L1621.76 306.33 L1621.74 304.81 L1621.73 303.29 L1621.71 301.77 L1621.7 300.25 L1621.68 298.73 L1621.66 297.21 L1621.63 295.69 L1621.61 294.17 L1621.58 292.65 L1621.55 291.13 L1621.52 289.61 L1621.49 288.09 L1621.46 286.57 L1621.42 285.05 L1621.39 283.53 L1621.35 282.01 L1621.31 280.49 L1621.26 278.97 L1621.22 277.45 L1621.17 275.93 L1621.13 274.41 L1621.08 272.89 L1621.03 271.37 L1620.97 269.85 L1620.92 268.33 L1620.87 266.81 L1620.81 265.29 L1620.75 263.77 L1620.69 262.25 L1620.63 260.73 L1620.57 259.21 L1620.51 257.69 L1620.45 256.17 L1620.39 254.65 L1620.33 253.13 L1620.27 251.61 L1620.21 250.09 L1620.15 248.57 L1620.09 247.05 L1620.03 245.53 L1619.97 244.01 L1619.91 242.49 L1619.85 240.97 L1619.8 239.45 L1619.75 237.93 L1619.7 236.41 L1619.65 234.89 L1619.6 233.37 L1619.56 231.85 L1619.51 230.33 L1619.48 228.81 L1619.44 227.29 L1619.41 225.77 L1619.38 224.25 L1619.35 222.73 L1619.33 221.21 L1619.31 219.69 L1619.29 218.17 L1619.28 216.65 L1619.27 215.13 L1619.27 213.61 L1619.27 212.09 L1625 212.09 L1625 213.61 L1624.99 215.13 L1624.99 216.65 L1624.97 218.17 L1624.96 219.69 L1624.94 221.21 L1624.92 222.73 L1624.89 224.25 L1624.86 225.77 L1624.83 227.29 L1624.79 228.81 L1624.75 230.33 L1624.71 231.85 L1624.67 233.37 L1624.62 234.89 L1624.57 236.41 L1624.52 237.93 L1624.47 239.45 L1624.41 240.97 L1624.36 242.49 L1624.3 244.01 L1624.24 245.53 L1624.18 247.05 L1624.12 248.57 L1624.06 250.09 L1624 251.61 L1623.94 253.13 L1623.87 254.65 L1623.81 256.17 L1623.75 257.69 L1623.69 259.21 L1623.63 260.73 L1623.57 262.25 L1623.51 263.77 L1623.46 265.29 L1623.4 266.81 L1623.35 268.33 L1623.29 269.85 L1623.24 271.37 L1623.19 272.89 L1623.14 274.41 L1623.09 275.93 L1623.05 277.45 L1623 278.97 L1622.96 280.49 L1622.92 282.01 L1622.88 283.53 L1622.84 285.05 L1622.81 286.57 L1622.78 288.09 L1622.74 289.61 L1622.71 291.13 L1622.69 292.65 L1622.66 294.17 L1622.63 295.69 L1622.61 297.21 L1622.59 298.73 L1622.57 300.25 L1622.55 301.77 L1622.54 303.29 L1622.52 304.81 L1622.51 306.33 L1622.5 307.85 L1622.49 309.37 L1622.49 310.89 L1622.48 312.41 L1622.48 313.93 L1622.48 315.45 L1622.48 316.97 L1622.48 318.49 L1622.49 320.01 L1622.49 321.53 L1622.5 323.05 L1622.52 324.57 L1622.53 326.09 L1622.55 327.61 L1622.57 329.13 L1622.6 330.65 L1622.63 332.17 L1622.66 333.7 L1622.7 335.22 L1622.74 336.74 L1622.78 338.26 L1622.84 339.78 L1622.89 341.3 L1622.96 342.82 L1623.02 344.34 L1623.1 345.86 L1623.18 347.38 L1623.27 348.9 L1623.37 350.42 L1623.48 351.94 L1623.59 353.46 L1623.72 354.98 L1623.86 356.5 L1624 358.02 L1624.16 359.54 L1624.33 361.06 L1624.52 362.58 L1624.71 364.1 L1624.92 365.62 L1625.14 367.14 L1625.38 368.66 L1625.64 370.18 L1625.91 371.7 L1626.19 373.22 L1626.5 374.74 L1626.82 376.26 L1627.15 377.78 L1627.51 379.3 L1627.88 380.82 L1628.27 382.34 L1628.68 383.86 L1629.11 385.38 L1629.56 386.9 L1630.03 388.42 L1630.51 389.94 L1631.01 391.46 L1631.53 392.98 L1632.07 394.5 L1632.62 396.02 L1633.19 397.54 L1633.78 399.06 L1634.38 400.58 L1634.99 402.1 L1635.62 403.62 L1636.26 405.14 L1636.91 406.66 L1637.56 408.18 L1638.23 409.7 L1638.9 411.22 L1639.57 412.74 L1640.25 414.26 L1640.92 415.78 L1641.6 417.3 L1642.27 418.82 L1642.94 420.34 L1643.6 421.86 L1644.24 423.38 L1644.88 424.9 L1645.5 426.42 L1646.11 427.94 L1646.7 429.46 L1647.27 430.98 L1647.82 432.5 L1648.34 434.02 L1648.83 435.54 L1649.3 437.06 L1649.74 438.58 L1650.14 440.1 L1650.51 441.62 L1650.85 443.14 L1651.15 444.66 L1651.41 446.18 L1651.64 447.7 L1651.82 449.22 L1651.97 450.74 L1652.07 452.26 L1652.13 453.78 L1652.15 455.3Z"/>
</g>
<g stroke="#cccccc" stroke-width="2" shape-rendering="crispEdges">
<line x1="987" x2="1659" y1="455" y2="455"/>
<line x1="987" x2="1659" y1="334" y2="334"/>
<line x1="987" x2="1659" y1="213" y2="213"/>
<line x1="987" x2="1659" y1="92" y2="92"/>
</g>
<rect x="1217.2" y="453.75" width="63.2" height="3.3" fill="#3e3e3e"/>
<rect x="1291.87" y="453.75" width="63.2" height="3.3" fill="#3e3e3e"/>
<rect x="1515.87" y="453.75" width="63.2" height="3.3" fill="#3e3e3e"/>
<g fill="#000">
<rect x="1015.8" y="453.8" width="18" height="3" rx="0.8"/>
<circle cx="1018.5" cy="283.3" r="1.5"/>
<circle cx="1030.4" cy="299.4" r="1.5"/>
<rect x="1090.97" y="453.8" width="17" height="3" rx="0.8"/>
<circle cx="1098.9" cy="277.6" r="1.5"/>
<circle cx="1095.3" cy="282.4" r="1.5"/>
<rect x="1165.13" y="453.8" width="18" height="3" rx="0.8"/>
<circle cx="1171.2" cy="171.5" r="1.5"/>
<circle cx="1167.3" cy="199.3" r="1.5"/>
<circle cx="1180.5" cy="246.2" r="1.5"/>
<circle cx="1168.2" cy="288.4" r="1.5"/>
<rect x="1239.8" y="453.8" width="18" height="3" rx="0.8"/>
<circle cx="1316.8" cy="455.3" r="1.5"/>
<circle cx="1320.3" cy="455.3" r="1.5"/>
<circle cx="1325.4" cy="455.3" r="1.5"/>
<circle cx="1328.2" cy="455.3" r="1.5"/>
<circle cx="1330.6" cy="455.3" r="1.5"/>
<rect x="1390.13" y="453.8" width="16" height="3" rx="0.8"/>
<circle cx="1404.5" cy="140.2" r="1.5"/>
<circle cx="1394.5" cy="146.4" r="1.5"/>
<circle cx="1467.6" cy="455.3" r="1.5"/>
<circle cx="1470.9" cy="455.3" r="1.5"/>
<circle cx="1477.6" cy="455.3" r="1.5"/>
<circle cx="1479.6" cy="455.3" r="1.5"/>
<circle cx="1466.5" cy="40.5" r="1.5"/>
<circle cx="1466.5" cy="49.4" r="1.5"/>
<circle cx="1475.5" cy="48.4" r="1.5"/>
<circle cx="1472.5" cy="54.4" r="1.5"/>
<circle cx="1471.2" cy="78.3" r="1.5"/>
<circle cx="1467.5" cy="82.3" r="1.5"/>
<circle cx="1478.2" cy="95.3" r="1.5"/>
<circle cx="1471.2" cy="99.3" r="1.5"/>
<circle cx="1477.2" cy="107.3" r="1.5"/>
<circle cx="1474.7" cy="109.3" r="1.5"/>
<circle cx="1479.2" cy="110.5" r="1.5"/>
<circle cx="1477.7" cy="111.7" r="1.5"/>
<circle cx="1468.5" cy="115.2" r="1.5"/>
<circle cx="1475.5" cy="124.7" r="1.5"/>
<circle cx="1474.7" cy="126" r="1.5"/>
<circle cx="1473.5" cy="130.4" r="1.5"/>
<circle cx="1472.5" cy="136.4" r="1.5"/>
<circle cx="1469.5" cy="139.9" r="1.5"/>
<circle cx="1466.5" cy="142.4" r="1.5"/>
<circle cx="1465.3" cy="146.4" r="1.5"/>
<circle cx="1473.5" cy="146.4" r="1.5"/>
<circle cx="1478.2" cy="147.1" r="1.5"/>
<circle cx="1478.2" cy="153.1" r="1.5"/>
<circle cx="1467.5" cy="154.1" r="1.5"/>
<circle cx="1469.5" cy="157.4" r="1.5"/>
<circle cx="1477.2" cy="164.6" r="1.5"/>
<circle cx="1478.2" cy="166.1" r="1.5"/>
<circle cx="1472.5" cy="167.6" r="1.5"/>
<circle cx="1471.2" cy="174" r="1.5"/>
<circle cx="1471.2" cy="176.3" r="1.5"/>
<circle cx="1469.5" cy="181.5" r="1.5"/>
<circle cx="1478.2" cy="183.5" r="1.5"/>
<circle cx="1467.5" cy="197.4" r="1.5"/>
<circle cx="1469" cy="198.4" r="1.5"/>
<circle cx="1472.5" cy="203.4" r="1.5"/>
<circle cx="1473.5" cy="210.1" r="1.5"/>
<circle cx="1479.2" cy="213.4" r="1.5"/>
<circle cx="1465.5" cy="221.3" r="1.5"/>
<circle cx="1475.5" cy="220.6" r="1.5"/>
<circle cx="1477.2" cy="221.8" r="1.5"/>
<circle cx="1476.5" cy="225.3" r="1.5"/>
<circle cx="1478.2" cy="226.6" r="1.5"/>
<circle cx="1467.5" cy="233.6" r="1.5"/>
<circle cx="1479.2" cy="234.8" r="1.5"/>
<circle cx="1477.2" cy="236.8" r="1.5"/>
<circle cx="1474.2" cy="240.5" r="1.5"/>
<circle cx="1470.2" cy="245.8" r="1.5"/>
<circle cx="1470.2" cy="261.5" r="1.5"/>
<circle cx="1466.5" cy="269.2" r="1.5"/>
<circle cx="1468.3" cy="273.2" r="1.5"/>
<circle cx="1468.3" cy="278.4" r="1.5"/>
<circle cx="1474.2" cy="278.4" r="1.5"/>
<circle cx="1478.2" cy="279.2" r="1.5"/>
<circle cx="1480.2" cy="277.7" r="1.5"/>
<circle cx="1480.2" cy="287.4" r="1.5"/>
<circle cx="1473.5" cy="293.4" r="1.5"/>
<rect x="1538.47" y="453.8" width="18" height="3" rx="0.8"/>
<circle cx="1615.5" cy="455.3" r="1.5"/>
<circle cx="1618.5" cy="455.3" r="1.5"/>
<circle cx="1621.5" cy="455.3" r="1.5"/>
<circle cx="1624.5" cy="455.3" r="1.5"/>
<circle cx="1627" cy="455.3" r="1.5"/>
<circle cx="1629.5" cy="455.3" r="1.5"/>
<circle cx="1628.5" cy="212.6" r="1.5"/>
</g>
<rect x="987" y="19" width="672" height="456" fill="none" stroke="#000" stroke-width="2" shape-rendering="crispEdges"/>
<g stroke="#000" stroke-width="2" shape-rendering="crispEdges">
<line x1="1024" x2="1024" y1="476" y2="485"/>
<line x1="1099" x2="1099" y1="476" y2="485"/>
<line x1="1174" x2="1174" y1="476" y2="485"/>
<line x1="1248" x2="1248" y1="476" y2="485"/>
<line x1="1323" x2="1323" y1="476" y2="485"/>
<line x1="1398" x2="1398" y1="476" y2="485"/>
<line x1="1472" x2="1472" y1="476" y2="485"/>
<line x1="1547" x2="1547" y1="476" y2="485"/>
<line x1="1622" x2="1622" y1="476" y2="485"/>
<line x1="977" x2="986" y1="455" y2="455"/>
<line x1="977" x2="986" y1="334" y2="334"/>
<line x1="977" x2="986" y1="213" y2="213"/>
<line x1="977" x2="986" y1="92" y2="92"/>
</g>
<g class="t">
<text x="1024.8" y="525.1" text-anchor="middle">0</text>
<text x="1099.47" y="525.1" text-anchor="middle">1</text>
<text x="1174.13" y="525.1" text-anchor="middle">2</text>
<text x="1248.8" y="525.1" text-anchor="middle">3</text>
<text x="1323.47" y="525.1" text-anchor="middle">4</text>
<text x="1398.13" y="525.1" text-anchor="middle">5</text>
<text x="1472.8" y="525.1" text-anchor="middle">6</text>
<text x="1547.47" y="525.1" text-anchor="middle">7</text>
<text x="1622.13" y="525.1" text-anchor="middle">8</text>
<text x="967" y="469.9" text-anchor="end">0</text>
<text x="967" y="348.9" text-anchor="end">1</text>
<text x="967" y="227.9" text-anchor="end">2</text>
<text x="967" y="106.9" text-anchor="end">3</text>
<text x="1323" y="575.2" text-anchor="middle">clusters</text>
<text transform="translate(926 252) rotate(-90)" text-anchor="middle">MS4A1</text>
</g>
</g>
</svg></body></html>
